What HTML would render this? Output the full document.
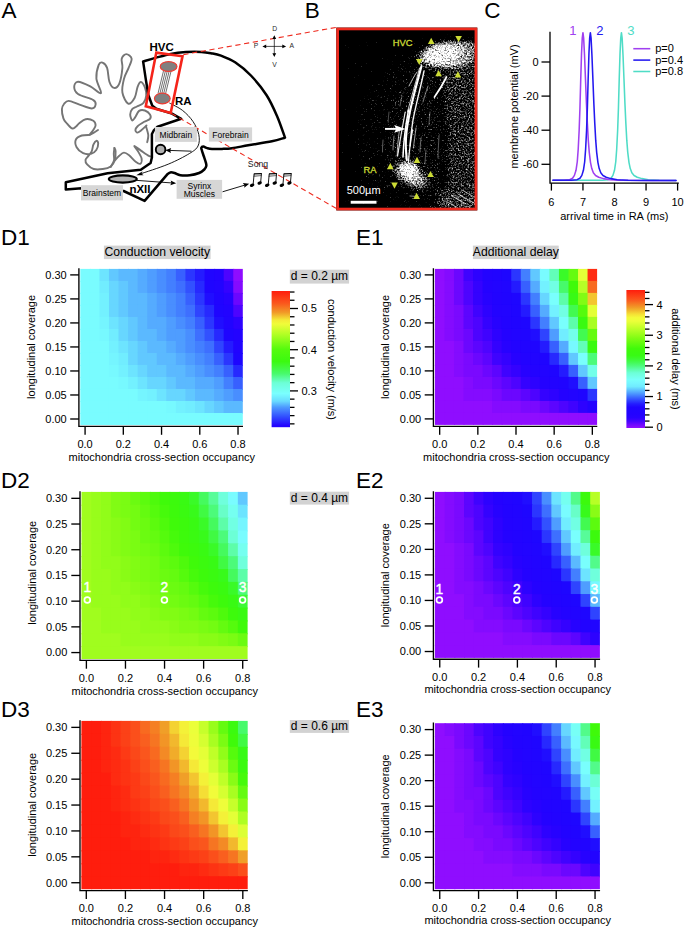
<!DOCTYPE html>
<html><head><meta charset="utf-8"><title>Figure</title>
<style>html,body{margin:0;padding:0;background:#fff;}svg{display:block;}text{font-family:"Liberation Sans",sans-serif;}</style>
</head><body>
<svg width="685" height="928" viewBox="0 0 685 928">
<rect width="685" height="928" fill="#fff"/>
<text x="1.40" y="18.00" font-size="22.5" text-anchor="start" fill="#000" >A</text>
<text x="304.70" y="18.00" font-size="22.5" text-anchor="start" fill="#000" >B</text>
<text x="484.30" y="18.00" font-size="22.5" text-anchor="start" fill="#000" >C</text>
<text x="1.00" y="244.90" font-size="22.5" text-anchor="start" fill="#000" >D1</text>
<text x="356.10" y="244.90" font-size="22.5" text-anchor="start" fill="#000" >E1</text>
<text x="1.00" y="488.00" font-size="22.5" text-anchor="start" fill="#000" >D2</text>
<text x="356.10" y="488.00" font-size="22.5" text-anchor="start" fill="#000" >E2</text>
<text x="1.00" y="716.60" font-size="22.5" text-anchor="start" fill="#000" >D3</text>
<text x="356.10" y="716.60" font-size="22.5" text-anchor="start" fill="#000" >E3</text>
<rect x="103.90" y="245.60" width="106.70" height="13.50" fill="#d2d2d2"/>
<text x="157.25" y="256.00" font-size="12.2" text-anchor="middle" fill="#000" >Conduction velocity</text>
<rect x="472.90" y="245.60" width="85.80" height="13.50" fill="#d2d2d2"/>
<text x="515.80" y="256.00" font-size="12.2" text-anchor="middle" fill="#000" >Additional delay</text>
<rect x="289.80" y="269.70" width="59.30" height="13.90" fill="#d2d2d2"/>
<text x="319.45" y="280.40" font-size="12" text-anchor="middle" fill="#000" >d = 0.2 µm</text>
<rect x="289.80" y="491.70" width="59.30" height="12.90" fill="#d2d2d2"/>
<text x="319.45" y="501.50" font-size="12" text-anchor="middle" fill="#000" >d = 0.4 µm</text>
<rect x="289.80" y="720.00" width="59.30" height="12.90" fill="#d2d2d2"/>
<text x="319.45" y="729.90" font-size="12" text-anchor="middle" fill="#000" >d = 0.6 µm</text>
<rect x="80.30" y="268.90" width="10.56" height="13.01" fill="#79fcff"/>
<rect x="89.86" y="268.90" width="10.56" height="13.01" fill="#79fcff"/>
<rect x="99.42" y="268.90" width="10.56" height="13.01" fill="#6de4ff"/>
<rect x="108.98" y="268.90" width="10.56" height="13.01" fill="#61c8ff"/>
<rect x="118.54" y="268.90" width="10.56" height="13.01" fill="#5bb9ff"/>
<rect x="128.09" y="268.90" width="10.56" height="13.01" fill="#5bb9ff"/>
<rect x="137.65" y="268.90" width="10.56" height="13.01" fill="#55abff"/>
<rect x="147.21" y="268.90" width="10.56" height="13.01" fill="#4f9dff"/>
<rect x="156.77" y="268.90" width="10.56" height="13.01" fill="#498eff"/>
<rect x="166.33" y="268.90" width="10.56" height="13.01" fill="#437fff"/>
<rect x="175.89" y="268.90" width="10.56" height="13.01" fill="#3860ff"/>
<rect x="185.45" y="268.90" width="10.56" height="13.01" fill="#2b36ff"/>
<rect x="195.01" y="268.90" width="10.56" height="13.01" fill="#241bff"/>
<rect x="204.56" y="268.90" width="10.56" height="13.01" fill="#2005ff"/>
<rect x="214.12" y="268.90" width="10.56" height="13.01" fill="#2303ff"/>
<rect x="223.68" y="268.90" width="10.56" height="13.01" fill="#4d04ff"/>
<rect x="233.24" y="268.90" width="9.56" height="13.01" fill="#8f0dff"/>
<rect x="80.30" y="280.91" width="10.56" height="13.01" fill="#79fcff"/>
<rect x="89.86" y="280.91" width="10.56" height="13.01" fill="#79fcff"/>
<rect x="99.42" y="280.91" width="10.56" height="13.01" fill="#71edff"/>
<rect x="108.98" y="280.91" width="10.56" height="13.01" fill="#67d6ff"/>
<rect x="118.54" y="280.91" width="10.56" height="13.01" fill="#61c8ff"/>
<rect x="128.09" y="280.91" width="10.56" height="13.01" fill="#5bb9ff"/>
<rect x="137.65" y="280.91" width="10.56" height="13.01" fill="#55abff"/>
<rect x="147.21" y="280.91" width="10.56" height="13.01" fill="#4f9dff"/>
<rect x="156.77" y="280.91" width="10.56" height="13.01" fill="#498eff"/>
<rect x="166.33" y="280.91" width="10.56" height="13.01" fill="#437fff"/>
<rect x="175.89" y="280.91" width="10.56" height="13.01" fill="#3e6fff"/>
<rect x="185.45" y="280.91" width="10.56" height="13.01" fill="#3251ff"/>
<rect x="195.01" y="280.91" width="10.56" height="13.01" fill="#2729ff"/>
<rect x="204.56" y="280.91" width="10.56" height="13.01" fill="#1f05ff"/>
<rect x="214.12" y="280.91" width="10.56" height="13.01" fill="#2204ff"/>
<rect x="223.68" y="280.91" width="10.56" height="13.01" fill="#3402ff"/>
<rect x="233.24" y="280.91" width="9.56" height="13.01" fill="#840bff"/>
<rect x="80.30" y="292.92" width="10.56" height="13.01" fill="#79fcff"/>
<rect x="89.86" y="292.92" width="10.56" height="13.01" fill="#79fcff"/>
<rect x="99.42" y="292.92" width="10.56" height="13.01" fill="#73f1ff"/>
<rect x="108.98" y="292.92" width="10.56" height="13.01" fill="#67d6ff"/>
<rect x="118.54" y="292.92" width="10.56" height="13.01" fill="#61c8ff"/>
<rect x="128.09" y="292.92" width="10.56" height="13.01" fill="#5bb9ff"/>
<rect x="137.65" y="292.92" width="10.56" height="13.01" fill="#5bb9ff"/>
<rect x="147.21" y="292.92" width="10.56" height="13.01" fill="#55abff"/>
<rect x="156.77" y="292.92" width="10.56" height="13.01" fill="#4f9dff"/>
<rect x="166.33" y="292.92" width="10.56" height="13.01" fill="#498eff"/>
<rect x="175.89" y="292.92" width="10.56" height="13.01" fill="#437fff"/>
<rect x="185.45" y="292.92" width="10.56" height="13.01" fill="#3860ff"/>
<rect x="195.01" y="292.92" width="10.56" height="13.01" fill="#2b36ff"/>
<rect x="204.56" y="292.92" width="10.56" height="13.01" fill="#200eff"/>
<rect x="214.12" y="292.92" width="10.56" height="13.01" fill="#2004ff"/>
<rect x="223.68" y="292.92" width="10.56" height="13.01" fill="#2702ff"/>
<rect x="233.24" y="292.92" width="9.56" height="13.01" fill="#6b07ff"/>
<rect x="80.30" y="304.92" width="10.56" height="13.01" fill="#79fcff"/>
<rect x="89.86" y="304.92" width="10.56" height="13.01" fill="#79fcff"/>
<rect x="99.42" y="304.92" width="10.56" height="13.01" fill="#73f1ff"/>
<rect x="108.98" y="304.92" width="10.56" height="13.01" fill="#67d6ff"/>
<rect x="118.54" y="304.92" width="10.56" height="13.01" fill="#61c8ff"/>
<rect x="128.09" y="304.92" width="10.56" height="13.01" fill="#5bb9ff"/>
<rect x="137.65" y="304.92" width="10.56" height="13.01" fill="#5bb9ff"/>
<rect x="147.21" y="304.92" width="10.56" height="13.01" fill="#55abff"/>
<rect x="156.77" y="304.92" width="10.56" height="13.01" fill="#4f9dff"/>
<rect x="166.33" y="304.92" width="10.56" height="13.01" fill="#498eff"/>
<rect x="175.89" y="304.92" width="10.56" height="13.01" fill="#437fff"/>
<rect x="185.45" y="304.92" width="10.56" height="13.01" fill="#3e6fff"/>
<rect x="195.01" y="304.92" width="10.56" height="13.01" fill="#2f44ff"/>
<rect x="204.56" y="304.92" width="10.56" height="13.01" fill="#2729ff"/>
<rect x="214.12" y="304.92" width="10.56" height="13.01" fill="#1f05ff"/>
<rect x="223.68" y="304.92" width="10.56" height="13.01" fill="#2203ff"/>
<rect x="233.24" y="304.92" width="9.56" height="13.01" fill="#4d04ff"/>
<rect x="80.30" y="316.93" width="10.56" height="13.01" fill="#79fcff"/>
<rect x="89.86" y="316.93" width="10.56" height="13.01" fill="#79fcff"/>
<rect x="99.42" y="316.93" width="10.56" height="13.01" fill="#75f5ff"/>
<rect x="108.98" y="316.93" width="10.56" height="13.01" fill="#6de4ff"/>
<rect x="118.54" y="316.93" width="10.56" height="13.01" fill="#67d6ff"/>
<rect x="128.09" y="316.93" width="10.56" height="13.01" fill="#61c8ff"/>
<rect x="137.65" y="316.93" width="10.56" height="13.01" fill="#5bb9ff"/>
<rect x="147.21" y="316.93" width="10.56" height="13.01" fill="#55abff"/>
<rect x="156.77" y="316.93" width="10.56" height="13.01" fill="#55abff"/>
<rect x="166.33" y="316.93" width="10.56" height="13.01" fill="#4f9dff"/>
<rect x="175.89" y="316.93" width="10.56" height="13.01" fill="#498eff"/>
<rect x="185.45" y="316.93" width="10.56" height="13.01" fill="#437fff"/>
<rect x="195.01" y="316.93" width="10.56" height="13.01" fill="#3860ff"/>
<rect x="204.56" y="316.93" width="10.56" height="13.01" fill="#2b36ff"/>
<rect x="214.12" y="316.93" width="10.56" height="13.01" fill="#200eff"/>
<rect x="223.68" y="316.93" width="10.56" height="13.01" fill="#2104ff"/>
<rect x="233.24" y="316.93" width="9.56" height="13.01" fill="#2d02ff"/>
<rect x="80.30" y="328.94" width="10.56" height="13.01" fill="#79fcff"/>
<rect x="89.86" y="328.94" width="10.56" height="13.01" fill="#79fcff"/>
<rect x="99.42" y="328.94" width="10.56" height="13.01" fill="#77f9ff"/>
<rect x="108.98" y="328.94" width="10.56" height="13.01" fill="#71edff"/>
<rect x="118.54" y="328.94" width="10.56" height="13.01" fill="#67d6ff"/>
<rect x="128.09" y="328.94" width="10.56" height="13.01" fill="#61c8ff"/>
<rect x="137.65" y="328.94" width="10.56" height="13.01" fill="#5bb9ff"/>
<rect x="147.21" y="328.94" width="10.56" height="13.01" fill="#5bb9ff"/>
<rect x="156.77" y="328.94" width="10.56" height="13.01" fill="#55abff"/>
<rect x="166.33" y="328.94" width="10.56" height="13.01" fill="#4f9dff"/>
<rect x="175.89" y="328.94" width="10.56" height="13.01" fill="#4f9dff"/>
<rect x="185.45" y="328.94" width="10.56" height="13.01" fill="#498eff"/>
<rect x="195.01" y="328.94" width="10.56" height="13.01" fill="#3e6fff"/>
<rect x="204.56" y="328.94" width="10.56" height="13.01" fill="#3251ff"/>
<rect x="214.12" y="328.94" width="10.56" height="13.01" fill="#2729ff"/>
<rect x="223.68" y="328.94" width="10.56" height="13.01" fill="#1f05ff"/>
<rect x="233.24" y="328.94" width="9.56" height="13.01" fill="#2303ff"/>
<rect x="80.30" y="340.95" width="10.56" height="13.01" fill="#79fcff"/>
<rect x="89.86" y="340.95" width="10.56" height="13.01" fill="#79fcff"/>
<rect x="99.42" y="340.95" width="10.56" height="13.01" fill="#79fcff"/>
<rect x="108.98" y="340.95" width="10.56" height="13.01" fill="#73f1ff"/>
<rect x="118.54" y="340.95" width="10.56" height="13.01" fill="#6de4ff"/>
<rect x="128.09" y="340.95" width="10.56" height="13.01" fill="#67d6ff"/>
<rect x="137.65" y="340.95" width="10.56" height="13.01" fill="#61c8ff"/>
<rect x="147.21" y="340.95" width="10.56" height="13.01" fill="#5bb9ff"/>
<rect x="156.77" y="340.95" width="10.56" height="13.01" fill="#5bb9ff"/>
<rect x="166.33" y="340.95" width="10.56" height="13.01" fill="#55abff"/>
<rect x="175.89" y="340.95" width="10.56" height="13.01" fill="#4f9dff"/>
<rect x="185.45" y="340.95" width="10.56" height="13.01" fill="#498eff"/>
<rect x="195.01" y="340.95" width="10.56" height="13.01" fill="#437fff"/>
<rect x="204.56" y="340.95" width="10.56" height="13.01" fill="#3e6fff"/>
<rect x="214.12" y="340.95" width="10.56" height="13.01" fill="#2f44ff"/>
<rect x="223.68" y="340.95" width="10.56" height="13.01" fill="#241bff"/>
<rect x="233.24" y="340.95" width="9.56" height="13.01" fill="#2104ff"/>
<rect x="80.30" y="352.95" width="10.56" height="13.01" fill="#79fcff"/>
<rect x="89.86" y="352.95" width="10.56" height="13.01" fill="#79fcff"/>
<rect x="99.42" y="352.95" width="10.56" height="13.01" fill="#79fcff"/>
<rect x="108.98" y="352.95" width="10.56" height="13.01" fill="#75f5ff"/>
<rect x="118.54" y="352.95" width="10.56" height="13.01" fill="#71edff"/>
<rect x="128.09" y="352.95" width="10.56" height="13.01" fill="#67d6ff"/>
<rect x="137.65" y="352.95" width="10.56" height="13.01" fill="#61c8ff"/>
<rect x="147.21" y="352.95" width="10.56" height="13.01" fill="#61c8ff"/>
<rect x="156.77" y="352.95" width="10.56" height="13.01" fill="#5bb9ff"/>
<rect x="166.33" y="352.95" width="10.56" height="13.01" fill="#5bb9ff"/>
<rect x="175.89" y="352.95" width="10.56" height="13.01" fill="#55abff"/>
<rect x="185.45" y="352.95" width="10.56" height="13.01" fill="#4f9dff"/>
<rect x="195.01" y="352.95" width="10.56" height="13.01" fill="#498eff"/>
<rect x="204.56" y="352.95" width="10.56" height="13.01" fill="#437fff"/>
<rect x="214.12" y="352.95" width="10.56" height="13.01" fill="#3860ff"/>
<rect x="223.68" y="352.95" width="10.56" height="13.01" fill="#2b36ff"/>
<rect x="233.24" y="352.95" width="9.56" height="13.01" fill="#1e06ff"/>
<rect x="80.30" y="364.96" width="10.56" height="13.01" fill="#79fcff"/>
<rect x="89.86" y="364.96" width="10.56" height="13.01" fill="#79fcff"/>
<rect x="99.42" y="364.96" width="10.56" height="13.01" fill="#79fcff"/>
<rect x="108.98" y="364.96" width="10.56" height="13.01" fill="#77f9ff"/>
<rect x="118.54" y="364.96" width="10.56" height="13.01" fill="#73f1ff"/>
<rect x="128.09" y="364.96" width="10.56" height="13.01" fill="#6de4ff"/>
<rect x="137.65" y="364.96" width="10.56" height="13.01" fill="#67d6ff"/>
<rect x="147.21" y="364.96" width="10.56" height="13.01" fill="#61c8ff"/>
<rect x="156.77" y="364.96" width="10.56" height="13.01" fill="#61c8ff"/>
<rect x="166.33" y="364.96" width="10.56" height="13.01" fill="#5bb9ff"/>
<rect x="175.89" y="364.96" width="10.56" height="13.01" fill="#5bb9ff"/>
<rect x="185.45" y="364.96" width="10.56" height="13.01" fill="#55abff"/>
<rect x="195.01" y="364.96" width="10.56" height="13.01" fill="#4f9dff"/>
<rect x="204.56" y="364.96" width="10.56" height="13.01" fill="#498eff"/>
<rect x="214.12" y="364.96" width="10.56" height="13.01" fill="#437fff"/>
<rect x="223.68" y="364.96" width="10.56" height="13.01" fill="#3860ff"/>
<rect x="233.24" y="364.96" width="9.56" height="13.01" fill="#2729ff"/>
<rect x="80.30" y="376.97" width="10.56" height="13.01" fill="#79fcff"/>
<rect x="89.86" y="376.97" width="10.56" height="13.01" fill="#79fcff"/>
<rect x="99.42" y="376.97" width="10.56" height="13.01" fill="#79fcff"/>
<rect x="108.98" y="376.97" width="10.56" height="13.01" fill="#79fcff"/>
<rect x="118.54" y="376.97" width="10.56" height="13.01" fill="#77f9ff"/>
<rect x="128.09" y="376.97" width="10.56" height="13.01" fill="#73f1ff"/>
<rect x="137.65" y="376.97" width="10.56" height="13.01" fill="#6de4ff"/>
<rect x="147.21" y="376.97" width="10.56" height="13.01" fill="#67d6ff"/>
<rect x="156.77" y="376.97" width="10.56" height="13.01" fill="#67d6ff"/>
<rect x="166.33" y="376.97" width="10.56" height="13.01" fill="#61c8ff"/>
<rect x="175.89" y="376.97" width="10.56" height="13.01" fill="#5bb9ff"/>
<rect x="185.45" y="376.97" width="10.56" height="13.01" fill="#5bb9ff"/>
<rect x="195.01" y="376.97" width="10.56" height="13.01" fill="#55abff"/>
<rect x="204.56" y="376.97" width="10.56" height="13.01" fill="#55abff"/>
<rect x="214.12" y="376.97" width="10.56" height="13.01" fill="#4f9dff"/>
<rect x="223.68" y="376.97" width="10.56" height="13.01" fill="#437fff"/>
<rect x="233.24" y="376.97" width="9.56" height="13.01" fill="#3860ff"/>
<rect x="80.30" y="388.98" width="10.56" height="13.01" fill="#79fcff"/>
<rect x="89.86" y="388.98" width="10.56" height="13.01" fill="#79fcff"/>
<rect x="99.42" y="388.98" width="10.56" height="13.01" fill="#79fcff"/>
<rect x="108.98" y="388.98" width="10.56" height="13.01" fill="#79fcff"/>
<rect x="118.54" y="388.98" width="10.56" height="13.01" fill="#79fcff"/>
<rect x="128.09" y="388.98" width="10.56" height="13.01" fill="#79fcff"/>
<rect x="137.65" y="388.98" width="10.56" height="13.01" fill="#75f5ff"/>
<rect x="147.21" y="388.98" width="10.56" height="13.01" fill="#73f1ff"/>
<rect x="156.77" y="388.98" width="10.56" height="13.01" fill="#6de4ff"/>
<rect x="166.33" y="388.98" width="10.56" height="13.01" fill="#67d6ff"/>
<rect x="175.89" y="388.98" width="10.56" height="13.01" fill="#67d6ff"/>
<rect x="185.45" y="388.98" width="10.56" height="13.01" fill="#61c8ff"/>
<rect x="195.01" y="388.98" width="10.56" height="13.01" fill="#5bb9ff"/>
<rect x="204.56" y="388.98" width="10.56" height="13.01" fill="#5bb9ff"/>
<rect x="214.12" y="388.98" width="10.56" height="13.01" fill="#55abff"/>
<rect x="223.68" y="388.98" width="10.56" height="13.01" fill="#4f9dff"/>
<rect x="233.24" y="388.98" width="9.56" height="13.01" fill="#498eff"/>
<rect x="80.30" y="400.98" width="10.56" height="13.01" fill="#79fcff"/>
<rect x="89.86" y="400.98" width="10.56" height="13.01" fill="#79fcff"/>
<rect x="99.42" y="400.98" width="10.56" height="13.01" fill="#79fcff"/>
<rect x="108.98" y="400.98" width="10.56" height="13.01" fill="#79fcff"/>
<rect x="118.54" y="400.98" width="10.56" height="13.01" fill="#79fcff"/>
<rect x="128.09" y="400.98" width="10.56" height="13.01" fill="#79fcff"/>
<rect x="137.65" y="400.98" width="10.56" height="13.01" fill="#79fcff"/>
<rect x="147.21" y="400.98" width="10.56" height="13.01" fill="#79fcff"/>
<rect x="156.77" y="400.98" width="10.56" height="13.01" fill="#79fcff"/>
<rect x="166.33" y="400.98" width="10.56" height="13.01" fill="#77f9ff"/>
<rect x="175.89" y="400.98" width="10.56" height="13.01" fill="#73f1ff"/>
<rect x="185.45" y="400.98" width="10.56" height="13.01" fill="#71edff"/>
<rect x="195.01" y="400.98" width="10.56" height="13.01" fill="#6de4ff"/>
<rect x="204.56" y="400.98" width="10.56" height="13.01" fill="#67d6ff"/>
<rect x="214.12" y="400.98" width="10.56" height="13.01" fill="#61c8ff"/>
<rect x="223.68" y="400.98" width="10.56" height="13.01" fill="#5bb9ff"/>
<rect x="233.24" y="400.98" width="9.56" height="13.01" fill="#5bb9ff"/>
<rect x="80.30" y="412.99" width="10.56" height="12.01" fill="#79fcff"/>
<rect x="89.86" y="412.99" width="10.56" height="12.01" fill="#79fcff"/>
<rect x="99.42" y="412.99" width="10.56" height="12.01" fill="#79fcff"/>
<rect x="108.98" y="412.99" width="10.56" height="12.01" fill="#79fcff"/>
<rect x="118.54" y="412.99" width="10.56" height="12.01" fill="#79fcff"/>
<rect x="128.09" y="412.99" width="10.56" height="12.01" fill="#79fcff"/>
<rect x="137.65" y="412.99" width="10.56" height="12.01" fill="#79fcff"/>
<rect x="147.21" y="412.99" width="10.56" height="12.01" fill="#79fcff"/>
<rect x="156.77" y="412.99" width="10.56" height="12.01" fill="#79fcff"/>
<rect x="166.33" y="412.99" width="10.56" height="12.01" fill="#79fcff"/>
<rect x="175.89" y="412.99" width="10.56" height="12.01" fill="#79fcff"/>
<rect x="185.45" y="412.99" width="10.56" height="12.01" fill="#79fcff"/>
<rect x="195.01" y="412.99" width="10.56" height="12.01" fill="#79fcff"/>
<rect x="204.56" y="412.99" width="10.56" height="12.01" fill="#79fcff"/>
<rect x="214.12" y="412.99" width="10.56" height="12.01" fill="#79fcff"/>
<rect x="223.68" y="412.99" width="10.56" height="12.01" fill="#79fcff"/>
<rect x="233.24" y="412.99" width="9.56" height="12.01" fill="#79fcff"/>
<path d="M78.90,268.90 V426.40 H242.30" fill="none" stroke="#000" stroke-width="1.35" stroke-linecap="square"/>
<line x1="85.08" y1="426.40" x2="85.08" y2="434.80" stroke="#000" stroke-width="1.35"/>
<text x="85.08" y="448.00" font-size="11" text-anchor="middle" fill="#000" >0.0</text>
<line x1="123.31" y1="426.40" x2="123.31" y2="434.80" stroke="#000" stroke-width="1.35"/>
<text x="123.31" y="448.00" font-size="11" text-anchor="middle" fill="#000" >0.2</text>
<line x1="161.55" y1="426.40" x2="161.55" y2="434.80" stroke="#000" stroke-width="1.35"/>
<text x="161.55" y="448.00" font-size="11" text-anchor="middle" fill="#000" >0.4</text>
<line x1="199.79" y1="426.40" x2="199.79" y2="434.80" stroke="#000" stroke-width="1.35"/>
<text x="199.79" y="448.00" font-size="11" text-anchor="middle" fill="#000" >0.6</text>
<line x1="238.02" y1="426.40" x2="238.02" y2="434.80" stroke="#000" stroke-width="1.35"/>
<text x="238.02" y="448.00" font-size="11" text-anchor="middle" fill="#000" >0.8</text>
<line x1="70.20" y1="419.00" x2="78.90" y2="419.00" stroke="#000" stroke-width="1.35"/>
<text x="66.70" y="422.90" font-size="11" text-anchor="end" fill="#000" >0.00</text>
<line x1="70.20" y1="394.98" x2="78.90" y2="394.98" stroke="#000" stroke-width="1.35"/>
<text x="66.70" y="398.88" font-size="11" text-anchor="end" fill="#000" >0.05</text>
<line x1="70.20" y1="370.97" x2="78.90" y2="370.97" stroke="#000" stroke-width="1.35"/>
<text x="66.70" y="374.87" font-size="11" text-anchor="end" fill="#000" >0.10</text>
<line x1="70.20" y1="346.95" x2="78.90" y2="346.95" stroke="#000" stroke-width="1.35"/>
<text x="66.70" y="350.85" font-size="11" text-anchor="end" fill="#000" >0.15</text>
<line x1="70.20" y1="322.93" x2="78.90" y2="322.93" stroke="#000" stroke-width="1.35"/>
<text x="66.70" y="326.83" font-size="11" text-anchor="end" fill="#000" >0.20</text>
<line x1="70.20" y1="298.92" x2="78.90" y2="298.92" stroke="#000" stroke-width="1.35"/>
<text x="66.70" y="302.82" font-size="11" text-anchor="end" fill="#000" >0.25</text>
<line x1="70.20" y1="274.90" x2="78.90" y2="274.90" stroke="#000" stroke-width="1.35"/>
<text x="66.70" y="278.80" font-size="11" text-anchor="end" fill="#000" >0.30</text>
<text x="161.85" y="460.70" font-size="11" text-anchor="middle" fill="#000" >mitochondria cross-section occupancy</text>
<text transform="translate(34.60,346.90) rotate(-90)" font-size="11" text-anchor="middle" fill="#000">longitudinal coverage</text>
<rect x="81.50" y="491.90" width="10.77" height="13.85" fill="#a0fd1e"/>
<rect x="91.27" y="491.90" width="10.77" height="13.85" fill="#98fd1b"/>
<rect x="101.04" y="491.90" width="10.77" height="13.85" fill="#91fd19"/>
<rect x="110.81" y="491.90" width="10.77" height="13.85" fill="#81fc14"/>
<rect x="120.58" y="491.90" width="10.77" height="13.85" fill="#7afc13"/>
<rect x="130.35" y="491.90" width="10.77" height="13.85" fill="#6bfb11"/>
<rect x="140.12" y="491.90" width="10.77" height="13.85" fill="#5cfb0e"/>
<rect x="149.89" y="491.90" width="10.77" height="13.85" fill="#4efa0c"/>
<rect x="159.66" y="491.90" width="10.77" height="13.85" fill="#3ffa0a"/>
<rect x="169.44" y="491.90" width="10.77" height="13.85" fill="#3cfa0d"/>
<rect x="179.21" y="491.90" width="10.77" height="13.85" fill="#39fa13"/>
<rect x="188.98" y="491.90" width="10.77" height="13.85" fill="#3afa28"/>
<rect x="198.75" y="491.90" width="10.77" height="13.85" fill="#45fa5e"/>
<rect x="208.52" y="491.90" width="10.77" height="13.85" fill="#57fc99"/>
<rect x="218.29" y="491.90" width="10.77" height="13.85" fill="#6fffdc"/>
<rect x="228.06" y="491.90" width="10.77" height="13.85" fill="#79fcff"/>
<rect x="237.83" y="491.90" width="9.77" height="13.85" fill="#61c8ff"/>
<rect x="81.50" y="504.75" width="10.77" height="13.85" fill="#a0fd1e"/>
<rect x="91.27" y="504.75" width="10.77" height="13.85" fill="#98fd1b"/>
<rect x="101.04" y="504.75" width="10.77" height="13.85" fill="#91fd19"/>
<rect x="110.81" y="504.75" width="10.77" height="13.85" fill="#81fc14"/>
<rect x="120.58" y="504.75" width="10.77" height="13.85" fill="#7afc13"/>
<rect x="130.35" y="504.75" width="10.77" height="13.85" fill="#73fc12"/>
<rect x="140.12" y="504.75" width="10.77" height="13.85" fill="#64fb10"/>
<rect x="149.89" y="504.75" width="10.77" height="13.85" fill="#55fb0d"/>
<rect x="159.66" y="504.75" width="10.77" height="13.85" fill="#46fa0b"/>
<rect x="169.44" y="504.75" width="10.77" height="13.85" fill="#3dfa0c"/>
<rect x="179.21" y="504.75" width="10.77" height="13.85" fill="#3afa11"/>
<rect x="188.98" y="504.75" width="10.77" height="13.85" fill="#38fa1b"/>
<rect x="198.75" y="504.75" width="10.77" height="13.85" fill="#40fa43"/>
<rect x="208.52" y="504.75" width="10.77" height="13.85" fill="#4cfb7a"/>
<rect x="218.29" y="504.75" width="10.77" height="13.85" fill="#68fec8"/>
<rect x="228.06" y="504.75" width="10.77" height="13.85" fill="#75fff0"/>
<rect x="237.83" y="504.75" width="9.77" height="13.85" fill="#6de4ff"/>
<rect x="81.50" y="517.61" width="10.77" height="13.85" fill="#a0fd1e"/>
<rect x="91.27" y="517.61" width="10.77" height="13.85" fill="#98fd1b"/>
<rect x="101.04" y="517.61" width="10.77" height="13.85" fill="#91fd19"/>
<rect x="110.81" y="517.61" width="10.77" height="13.85" fill="#89fc16"/>
<rect x="120.58" y="517.61" width="10.77" height="13.85" fill="#81fc14"/>
<rect x="130.35" y="517.61" width="10.77" height="13.85" fill="#73fc12"/>
<rect x="140.12" y="517.61" width="10.77" height="13.85" fill="#6bfb11"/>
<rect x="149.89" y="517.61" width="10.77" height="13.85" fill="#5cfb0e"/>
<rect x="159.66" y="517.61" width="10.77" height="13.85" fill="#4efa0c"/>
<rect x="169.44" y="517.61" width="10.77" height="13.85" fill="#3ffa0a"/>
<rect x="179.21" y="517.61" width="10.77" height="13.85" fill="#3cfa0d"/>
<rect x="188.98" y="517.61" width="10.77" height="13.85" fill="#39fa13"/>
<rect x="198.75" y="517.61" width="10.77" height="13.85" fill="#3afa28"/>
<rect x="208.52" y="517.61" width="10.77" height="13.85" fill="#45fa5e"/>
<rect x="218.29" y="517.61" width="10.77" height="13.85" fill="#5dfda9"/>
<rect x="228.06" y="517.61" width="10.77" height="13.85" fill="#71ffe3"/>
<rect x="237.83" y="517.61" width="9.77" height="13.85" fill="#75f5ff"/>
<rect x="81.50" y="530.46" width="10.77" height="13.85" fill="#a0fd1e"/>
<rect x="91.27" y="530.46" width="10.77" height="13.85" fill="#98fd1b"/>
<rect x="101.04" y="530.46" width="10.77" height="13.85" fill="#91fd19"/>
<rect x="110.81" y="530.46" width="10.77" height="13.85" fill="#89fc16"/>
<rect x="120.58" y="530.46" width="10.77" height="13.85" fill="#81fc14"/>
<rect x="130.35" y="530.46" width="10.77" height="13.85" fill="#7afc13"/>
<rect x="140.12" y="530.46" width="10.77" height="13.85" fill="#6bfb11"/>
<rect x="149.89" y="530.46" width="10.77" height="13.85" fill="#64fb10"/>
<rect x="159.66" y="530.46" width="10.77" height="13.85" fill="#55fb0d"/>
<rect x="169.44" y="530.46" width="10.77" height="13.85" fill="#46fa0b"/>
<rect x="179.21" y="530.46" width="10.77" height="13.85" fill="#3dfa0c"/>
<rect x="188.98" y="530.46" width="10.77" height="13.85" fill="#3afa11"/>
<rect x="198.75" y="530.46" width="10.77" height="13.85" fill="#38fa1b"/>
<rect x="208.52" y="530.46" width="10.77" height="13.85" fill="#40fa43"/>
<rect x="218.29" y="530.46" width="10.77" height="13.85" fill="#4cfb7a"/>
<rect x="228.06" y="530.46" width="10.77" height="13.85" fill="#6cffd6"/>
<rect x="237.83" y="530.46" width="9.77" height="13.85" fill="#79fcff"/>
<rect x="81.50" y="543.32" width="10.77" height="13.85" fill="#a0fd1e"/>
<rect x="91.27" y="543.32" width="10.77" height="13.85" fill="#98fd1b"/>
<rect x="101.04" y="543.32" width="10.77" height="13.85" fill="#91fd19"/>
<rect x="110.81" y="543.32" width="10.77" height="13.85" fill="#89fc16"/>
<rect x="120.58" y="543.32" width="10.77" height="13.85" fill="#81fc14"/>
<rect x="130.35" y="543.32" width="10.77" height="13.85" fill="#7afc13"/>
<rect x="140.12" y="543.32" width="10.77" height="13.85" fill="#73fc12"/>
<rect x="149.89" y="543.32" width="10.77" height="13.85" fill="#6bfb11"/>
<rect x="159.66" y="543.32" width="10.77" height="13.85" fill="#5cfb0e"/>
<rect x="169.44" y="543.32" width="10.77" height="13.85" fill="#4efa0c"/>
<rect x="179.21" y="543.32" width="10.77" height="13.85" fill="#3ffa0a"/>
<rect x="188.98" y="543.32" width="10.77" height="13.85" fill="#3cfa0d"/>
<rect x="198.75" y="543.32" width="10.77" height="13.85" fill="#39fa13"/>
<rect x="208.52" y="543.32" width="10.77" height="13.85" fill="#3afa28"/>
<rect x="218.29" y="543.32" width="10.77" height="13.85" fill="#45fa5e"/>
<rect x="228.06" y="543.32" width="10.77" height="13.85" fill="#5dfda9"/>
<rect x="237.83" y="543.32" width="9.77" height="13.85" fill="#75fff0"/>
<rect x="81.50" y="556.17" width="10.77" height="13.85" fill="#a0fd1e"/>
<rect x="91.27" y="556.17" width="10.77" height="13.85" fill="#98fd1b"/>
<rect x="101.04" y="556.17" width="10.77" height="13.85" fill="#91fd19"/>
<rect x="110.81" y="556.17" width="10.77" height="13.85" fill="#91fd19"/>
<rect x="120.58" y="556.17" width="10.77" height="13.85" fill="#89fc16"/>
<rect x="130.35" y="556.17" width="10.77" height="13.85" fill="#81fc14"/>
<rect x="140.12" y="556.17" width="10.77" height="13.85" fill="#7afc13"/>
<rect x="149.89" y="556.17" width="10.77" height="13.85" fill="#73fc12"/>
<rect x="159.66" y="556.17" width="10.77" height="13.85" fill="#64fb10"/>
<rect x="169.44" y="556.17" width="10.77" height="13.85" fill="#5cfb0e"/>
<rect x="179.21" y="556.17" width="10.77" height="13.85" fill="#4efa0c"/>
<rect x="188.98" y="556.17" width="10.77" height="13.85" fill="#3ffa0a"/>
<rect x="198.75" y="556.17" width="10.77" height="13.85" fill="#3bfa0f"/>
<rect x="208.52" y="556.17" width="10.77" height="13.85" fill="#38fa15"/>
<rect x="218.29" y="556.17" width="10.77" height="13.85" fill="#40fa43"/>
<rect x="228.06" y="556.17" width="10.77" height="13.85" fill="#4cfb7a"/>
<rect x="237.83" y="556.17" width="9.77" height="13.85" fill="#6fffdc"/>
<rect x="81.50" y="569.02" width="10.77" height="13.85" fill="#a0fd1e"/>
<rect x="91.27" y="569.02" width="10.77" height="13.85" fill="#98fd1b"/>
<rect x="101.04" y="569.02" width="10.77" height="13.85" fill="#98fd1b"/>
<rect x="110.81" y="569.02" width="10.77" height="13.85" fill="#91fd19"/>
<rect x="120.58" y="569.02" width="10.77" height="13.85" fill="#89fc16"/>
<rect x="130.35" y="569.02" width="10.77" height="13.85" fill="#81fc14"/>
<rect x="140.12" y="569.02" width="10.77" height="13.85" fill="#7afc13"/>
<rect x="149.89" y="569.02" width="10.77" height="13.85" fill="#73fc12"/>
<rect x="159.66" y="569.02" width="10.77" height="13.85" fill="#6bfb11"/>
<rect x="169.44" y="569.02" width="10.77" height="13.85" fill="#64fb10"/>
<rect x="179.21" y="569.02" width="10.77" height="13.85" fill="#55fb0d"/>
<rect x="188.98" y="569.02" width="10.77" height="13.85" fill="#46fa0b"/>
<rect x="198.75" y="569.02" width="10.77" height="13.85" fill="#3dfa0c"/>
<rect x="208.52" y="569.02" width="10.77" height="13.85" fill="#3afa11"/>
<rect x="218.29" y="569.02" width="10.77" height="13.85" fill="#38fa1b"/>
<rect x="228.06" y="569.02" width="10.77" height="13.85" fill="#45fa5e"/>
<rect x="237.83" y="569.02" width="9.77" height="13.85" fill="#5dfda9"/>
<rect x="81.50" y="581.88" width="10.77" height="13.85" fill="#a0fd1e"/>
<rect x="91.27" y="581.88" width="10.77" height="13.85" fill="#98fd1b"/>
<rect x="101.04" y="581.88" width="10.77" height="13.85" fill="#98fd1b"/>
<rect x="110.81" y="581.88" width="10.77" height="13.85" fill="#91fd19"/>
<rect x="120.58" y="581.88" width="10.77" height="13.85" fill="#91fd19"/>
<rect x="130.35" y="581.88" width="10.77" height="13.85" fill="#89fc16"/>
<rect x="140.12" y="581.88" width="10.77" height="13.85" fill="#81fc14"/>
<rect x="149.89" y="581.88" width="10.77" height="13.85" fill="#7afc13"/>
<rect x="159.66" y="581.88" width="10.77" height="13.85" fill="#73fc12"/>
<rect x="169.44" y="581.88" width="10.77" height="13.85" fill="#6bfb11"/>
<rect x="179.21" y="581.88" width="10.77" height="13.85" fill="#64fb10"/>
<rect x="188.98" y="581.88" width="10.77" height="13.85" fill="#55fb0d"/>
<rect x="198.75" y="581.88" width="10.77" height="13.85" fill="#46fa0b"/>
<rect x="208.52" y="581.88" width="10.77" height="13.85" fill="#3dfa0c"/>
<rect x="218.29" y="581.88" width="10.77" height="13.85" fill="#3afa11"/>
<rect x="228.06" y="581.88" width="10.77" height="13.85" fill="#3afa28"/>
<rect x="237.83" y="581.88" width="9.77" height="13.85" fill="#4cfb7a"/>
<rect x="81.50" y="594.73" width="10.77" height="13.85" fill="#a0fd1e"/>
<rect x="91.27" y="594.73" width="10.77" height="13.85" fill="#98fd1b"/>
<rect x="101.04" y="594.73" width="10.77" height="13.85" fill="#98fd1b"/>
<rect x="110.81" y="594.73" width="10.77" height="13.85" fill="#98fd1b"/>
<rect x="120.58" y="594.73" width="10.77" height="13.85" fill="#91fd19"/>
<rect x="130.35" y="594.73" width="10.77" height="13.85" fill="#91fd19"/>
<rect x="140.12" y="594.73" width="10.77" height="13.85" fill="#89fc16"/>
<rect x="149.89" y="594.73" width="10.77" height="13.85" fill="#81fc14"/>
<rect x="159.66" y="594.73" width="10.77" height="13.85" fill="#7afc13"/>
<rect x="169.44" y="594.73" width="10.77" height="13.85" fill="#73fc12"/>
<rect x="179.21" y="594.73" width="10.77" height="13.85" fill="#6bfb11"/>
<rect x="188.98" y="594.73" width="10.77" height="13.85" fill="#64fb10"/>
<rect x="198.75" y="594.73" width="10.77" height="13.85" fill="#55fb0d"/>
<rect x="208.52" y="594.73" width="10.77" height="13.85" fill="#46fa0b"/>
<rect x="218.29" y="594.73" width="10.77" height="13.85" fill="#3dfa0c"/>
<rect x="228.06" y="594.73" width="10.77" height="13.85" fill="#39fa13"/>
<rect x="237.83" y="594.73" width="9.77" height="13.85" fill="#3dfa35"/>
<rect x="81.50" y="607.58" width="10.77" height="13.85" fill="#a0fd1e"/>
<rect x="91.27" y="607.58" width="10.77" height="13.85" fill="#a0fd1e"/>
<rect x="101.04" y="607.58" width="10.77" height="13.85" fill="#98fd1b"/>
<rect x="110.81" y="607.58" width="10.77" height="13.85" fill="#98fd1b"/>
<rect x="120.58" y="607.58" width="10.77" height="13.85" fill="#98fd1b"/>
<rect x="130.35" y="607.58" width="10.77" height="13.85" fill="#91fd19"/>
<rect x="140.12" y="607.58" width="10.77" height="13.85" fill="#91fd19"/>
<rect x="149.89" y="607.58" width="10.77" height="13.85" fill="#89fc16"/>
<rect x="159.66" y="607.58" width="10.77" height="13.85" fill="#81fc14"/>
<rect x="169.44" y="607.58" width="10.77" height="13.85" fill="#81fc14"/>
<rect x="179.21" y="607.58" width="10.77" height="13.85" fill="#7afc13"/>
<rect x="188.98" y="607.58" width="10.77" height="13.85" fill="#73fc12"/>
<rect x="198.75" y="607.58" width="10.77" height="13.85" fill="#64fb10"/>
<rect x="208.52" y="607.58" width="10.77" height="13.85" fill="#5cfb0e"/>
<rect x="218.29" y="607.58" width="10.77" height="13.85" fill="#4efa0c"/>
<rect x="228.06" y="607.58" width="10.77" height="13.85" fill="#3dfa0c"/>
<rect x="237.83" y="607.58" width="9.77" height="13.85" fill="#39fa13"/>
<rect x="81.50" y="620.44" width="10.77" height="13.85" fill="#a0fd1e"/>
<rect x="91.27" y="620.44" width="10.77" height="13.85" fill="#a0fd1e"/>
<rect x="101.04" y="620.44" width="10.77" height="13.85" fill="#98fd1b"/>
<rect x="110.81" y="620.44" width="10.77" height="13.85" fill="#98fd1b"/>
<rect x="120.58" y="620.44" width="10.77" height="13.85" fill="#98fd1b"/>
<rect x="130.35" y="620.44" width="10.77" height="13.85" fill="#98fd1b"/>
<rect x="140.12" y="620.44" width="10.77" height="13.85" fill="#91fd19"/>
<rect x="149.89" y="620.44" width="10.77" height="13.85" fill="#91fd19"/>
<rect x="159.66" y="620.44" width="10.77" height="13.85" fill="#91fd19"/>
<rect x="169.44" y="620.44" width="10.77" height="13.85" fill="#89fc16"/>
<rect x="179.21" y="620.44" width="10.77" height="13.85" fill="#81fc14"/>
<rect x="188.98" y="620.44" width="10.77" height="13.85" fill="#81fc14"/>
<rect x="198.75" y="620.44" width="10.77" height="13.85" fill="#7afc13"/>
<rect x="208.52" y="620.44" width="10.77" height="13.85" fill="#73fc12"/>
<rect x="218.29" y="620.44" width="10.77" height="13.85" fill="#64fb10"/>
<rect x="228.06" y="620.44" width="10.77" height="13.85" fill="#55fb0d"/>
<rect x="237.83" y="620.44" width="9.77" height="13.85" fill="#3ffa0a"/>
<rect x="81.50" y="633.29" width="10.77" height="13.85" fill="#a0fd1e"/>
<rect x="91.27" y="633.29" width="10.77" height="13.85" fill="#a0fd1e"/>
<rect x="101.04" y="633.29" width="10.77" height="13.85" fill="#a0fd1e"/>
<rect x="110.81" y="633.29" width="10.77" height="13.85" fill="#a0fd1e"/>
<rect x="120.58" y="633.29" width="10.77" height="13.85" fill="#98fd1b"/>
<rect x="130.35" y="633.29" width="10.77" height="13.85" fill="#98fd1b"/>
<rect x="140.12" y="633.29" width="10.77" height="13.85" fill="#98fd1b"/>
<rect x="149.89" y="633.29" width="10.77" height="13.85" fill="#98fd1b"/>
<rect x="159.66" y="633.29" width="10.77" height="13.85" fill="#98fd1b"/>
<rect x="169.44" y="633.29" width="10.77" height="13.85" fill="#91fd19"/>
<rect x="179.21" y="633.29" width="10.77" height="13.85" fill="#91fd19"/>
<rect x="188.98" y="633.29" width="10.77" height="13.85" fill="#91fd19"/>
<rect x="198.75" y="633.29" width="10.77" height="13.85" fill="#89fc16"/>
<rect x="208.52" y="633.29" width="10.77" height="13.85" fill="#89fc16"/>
<rect x="218.29" y="633.29" width="10.77" height="13.85" fill="#81fc14"/>
<rect x="228.06" y="633.29" width="10.77" height="13.85" fill="#7afc13"/>
<rect x="237.83" y="633.29" width="9.77" height="13.85" fill="#6bfb11"/>
<rect x="81.50" y="646.15" width="10.77" height="12.85" fill="#a0fd1e"/>
<rect x="91.27" y="646.15" width="10.77" height="12.85" fill="#a0fd1e"/>
<rect x="101.04" y="646.15" width="10.77" height="12.85" fill="#a0fd1e"/>
<rect x="110.81" y="646.15" width="10.77" height="12.85" fill="#a0fd1e"/>
<rect x="120.58" y="646.15" width="10.77" height="12.85" fill="#a0fd1e"/>
<rect x="130.35" y="646.15" width="10.77" height="12.85" fill="#a0fd1e"/>
<rect x="140.12" y="646.15" width="10.77" height="12.85" fill="#a0fd1e"/>
<rect x="149.89" y="646.15" width="10.77" height="12.85" fill="#a0fd1e"/>
<rect x="159.66" y="646.15" width="10.77" height="12.85" fill="#a0fd1e"/>
<rect x="169.44" y="646.15" width="10.77" height="12.85" fill="#a0fd1e"/>
<rect x="179.21" y="646.15" width="10.77" height="12.85" fill="#a0fd1e"/>
<rect x="188.98" y="646.15" width="10.77" height="12.85" fill="#a0fd1e"/>
<rect x="198.75" y="646.15" width="10.77" height="12.85" fill="#a0fd1e"/>
<rect x="208.52" y="646.15" width="10.77" height="12.85" fill="#a0fd1e"/>
<rect x="218.29" y="646.15" width="10.77" height="12.85" fill="#a0fd1e"/>
<rect x="228.06" y="646.15" width="10.77" height="12.85" fill="#a0fd1e"/>
<rect x="237.83" y="646.15" width="9.77" height="12.85" fill="#a0fd1e"/>
<path d="M80.00,491.90 V660.30 H247.10" fill="none" stroke="#000" stroke-width="1.35" stroke-linecap="square"/>
<line x1="86.39" y1="660.30" x2="86.39" y2="668.70" stroke="#000" stroke-width="1.35"/>
<text x="86.39" y="682.30" font-size="11" text-anchor="middle" fill="#000" >0.0</text>
<line x1="125.47" y1="660.30" x2="125.47" y2="668.70" stroke="#000" stroke-width="1.35"/>
<text x="125.47" y="682.30" font-size="11" text-anchor="middle" fill="#000" >0.2</text>
<line x1="164.55" y1="660.30" x2="164.55" y2="668.70" stroke="#000" stroke-width="1.35"/>
<text x="164.55" y="682.30" font-size="11" text-anchor="middle" fill="#000" >0.4</text>
<line x1="203.63" y1="660.30" x2="203.63" y2="668.70" stroke="#000" stroke-width="1.35"/>
<text x="203.63" y="682.30" font-size="11" text-anchor="middle" fill="#000" >0.6</text>
<line x1="242.71" y1="660.30" x2="242.71" y2="668.70" stroke="#000" stroke-width="1.35"/>
<text x="242.71" y="682.30" font-size="11" text-anchor="middle" fill="#000" >0.8</text>
<line x1="71.30" y1="652.57" x2="80.00" y2="652.57" stroke="#000" stroke-width="1.35"/>
<text x="67.30" y="656.47" font-size="11" text-anchor="end" fill="#000" >0.00</text>
<line x1="71.30" y1="626.87" x2="80.00" y2="626.87" stroke="#000" stroke-width="1.35"/>
<text x="67.30" y="630.77" font-size="11" text-anchor="end" fill="#000" >0.05</text>
<line x1="71.30" y1="601.16" x2="80.00" y2="601.16" stroke="#000" stroke-width="1.35"/>
<text x="67.30" y="605.06" font-size="11" text-anchor="end" fill="#000" >0.10</text>
<line x1="71.30" y1="575.45" x2="80.00" y2="575.45" stroke="#000" stroke-width="1.35"/>
<text x="67.30" y="579.35" font-size="11" text-anchor="end" fill="#000" >0.15</text>
<line x1="71.30" y1="549.74" x2="80.00" y2="549.74" stroke="#000" stroke-width="1.35"/>
<text x="67.30" y="553.64" font-size="11" text-anchor="end" fill="#000" >0.20</text>
<line x1="71.30" y1="524.03" x2="80.00" y2="524.03" stroke="#000" stroke-width="1.35"/>
<text x="67.30" y="527.93" font-size="11" text-anchor="end" fill="#000" >0.25</text>
<line x1="71.30" y1="498.33" x2="80.00" y2="498.33" stroke="#000" stroke-width="1.35"/>
<text x="67.30" y="502.23" font-size="11" text-anchor="end" fill="#000" >0.30</text>
<text x="164.85" y="694.50" font-size="11" text-anchor="middle" fill="#000" >mitochondria cross-section occupancy</text>
<text transform="translate(36.20,572.80) rotate(-90)" font-size="11" text-anchor="middle" fill="#000">longitudinal coverage</text>
<rect x="81.40" y="720.90" width="10.78" height="13.95" fill="#ff1d0d"/>
<rect x="91.18" y="720.90" width="10.78" height="13.95" fill="#ff1d0d"/>
<rect x="100.96" y="720.90" width="10.78" height="13.95" fill="#fe240f"/>
<rect x="110.75" y="720.90" width="10.78" height="13.95" fill="#fd3313"/>
<rect x="120.53" y="720.90" width="10.78" height="13.95" fill="#fc4117"/>
<rect x="130.31" y="720.90" width="10.78" height="13.95" fill="#fb4f1b"/>
<rect x="140.09" y="720.90" width="10.78" height="13.95" fill="#f86a20"/>
<rect x="149.88" y="720.90" width="10.78" height="13.95" fill="#f57f23"/>
<rect x="159.66" y="720.90" width="10.78" height="13.95" fill="#f09f28"/>
<rect x="169.44" y="720.90" width="10.78" height="13.95" fill="#f4d232"/>
<rect x="179.22" y="720.90" width="10.78" height="13.95" fill="#f4f138"/>
<rect x="189.01" y="720.90" width="10.78" height="13.95" fill="#ebff3a"/>
<rect x="198.79" y="720.90" width="10.78" height="13.95" fill="#c6ff2b"/>
<rect x="208.57" y="720.90" width="10.78" height="13.95" fill="#98fd1b"/>
<rect x="218.35" y="720.90" width="10.78" height="13.95" fill="#64fb10"/>
<rect x="228.14" y="720.90" width="10.78" height="13.95" fill="#3bfa0f"/>
<rect x="237.92" y="720.90" width="9.78" height="13.95" fill="#47fa6b"/>
<rect x="81.40" y="733.85" width="10.78" height="13.95" fill="#ff1d0d"/>
<rect x="91.18" y="733.85" width="10.78" height="13.95" fill="#ff1d0d"/>
<rect x="100.96" y="733.85" width="10.78" height="13.95" fill="#fe240f"/>
<rect x="110.75" y="733.85" width="10.78" height="13.95" fill="#fd3313"/>
<rect x="120.53" y="733.85" width="10.78" height="13.95" fill="#fc4117"/>
<rect x="130.31" y="733.85" width="10.78" height="13.95" fill="#fb4f1b"/>
<rect x="140.09" y="733.85" width="10.78" height="13.95" fill="#f95f1f"/>
<rect x="149.88" y="733.85" width="10.78" height="13.95" fill="#f67522"/>
<rect x="159.66" y="733.85" width="10.78" height="13.95" fill="#f29526"/>
<rect x="169.44" y="733.85" width="10.78" height="13.95" fill="#f2b82d"/>
<rect x="179.22" y="733.85" width="10.78" height="13.95" fill="#f5e937"/>
<rect x="189.01" y="733.85" width="10.78" height="13.95" fill="#eefd3a"/>
<rect x="198.79" y="733.85" width="10.78" height="13.95" fill="#d5ff31"/>
<rect x="208.57" y="733.85" width="10.78" height="13.95" fill="#a8fe21"/>
<rect x="218.35" y="733.85" width="10.78" height="13.95" fill="#7afc13"/>
<rect x="228.14" y="733.85" width="10.78" height="13.95" fill="#3ffa0a"/>
<rect x="237.92" y="733.85" width="9.78" height="13.95" fill="#40fa43"/>
<rect x="81.40" y="746.79" width="10.78" height="13.95" fill="#ff1d0d"/>
<rect x="91.18" y="746.79" width="10.78" height="13.95" fill="#ff1d0d"/>
<rect x="100.96" y="746.79" width="10.78" height="13.95" fill="#fe240f"/>
<rect x="110.75" y="746.79" width="10.78" height="13.95" fill="#fe2b11"/>
<rect x="120.53" y="746.79" width="10.78" height="13.95" fill="#fd3a15"/>
<rect x="130.31" y="746.79" width="10.78" height="13.95" fill="#fb4819"/>
<rect x="140.09" y="746.79" width="10.78" height="13.95" fill="#fa561d"/>
<rect x="149.88" y="746.79" width="10.78" height="13.95" fill="#f86a20"/>
<rect x="159.66" y="746.79" width="10.78" height="13.95" fill="#f38a25"/>
<rect x="169.44" y="746.79" width="10.78" height="13.95" fill="#f1ac2a"/>
<rect x="179.22" y="746.79" width="10.78" height="13.95" fill="#f4d232"/>
<rect x="189.01" y="746.79" width="10.78" height="13.95" fill="#f3fa3a"/>
<rect x="198.79" y="746.79" width="10.78" height="13.95" fill="#e4ff37"/>
<rect x="208.57" y="746.79" width="10.78" height="13.95" fill="#bfff28"/>
<rect x="218.35" y="746.79" width="10.78" height="13.95" fill="#91fd19"/>
<rect x="228.14" y="746.79" width="10.78" height="13.95" fill="#55fb0d"/>
<rect x="237.92" y="746.79" width="9.78" height="13.95" fill="#38fa15"/>
<rect x="81.40" y="759.74" width="10.78" height="13.95" fill="#ff1d0d"/>
<rect x="91.18" y="759.74" width="10.78" height="13.95" fill="#ff1d0d"/>
<rect x="100.96" y="759.74" width="10.78" height="13.95" fill="#fe240f"/>
<rect x="110.75" y="759.74" width="10.78" height="13.95" fill="#fe2b11"/>
<rect x="120.53" y="759.74" width="10.78" height="13.95" fill="#fd3313"/>
<rect x="130.31" y="759.74" width="10.78" height="13.95" fill="#fc4117"/>
<rect x="140.09" y="759.74" width="10.78" height="13.95" fill="#fb4f1b"/>
<rect x="149.88" y="759.74" width="10.78" height="13.95" fill="#f95f1f"/>
<rect x="159.66" y="759.74" width="10.78" height="13.95" fill="#f67522"/>
<rect x="169.44" y="759.74" width="10.78" height="13.95" fill="#f29526"/>
<rect x="179.22" y="759.74" width="10.78" height="13.95" fill="#f2b82d"/>
<rect x="189.01" y="759.74" width="10.78" height="13.95" fill="#f5e937"/>
<rect x="198.79" y="759.74" width="10.78" height="13.95" fill="#eefd3a"/>
<rect x="208.57" y="759.74" width="10.78" height="13.95" fill="#cdff2e"/>
<rect x="218.35" y="759.74" width="10.78" height="13.95" fill="#a8fe21"/>
<rect x="228.14" y="759.74" width="10.78" height="13.95" fill="#6bfb11"/>
<rect x="237.92" y="759.74" width="9.78" height="13.95" fill="#3bfa0f"/>
<rect x="81.40" y="772.68" width="10.78" height="13.95" fill="#ff1d0d"/>
<rect x="91.18" y="772.68" width="10.78" height="13.95" fill="#ff1d0d"/>
<rect x="100.96" y="772.68" width="10.78" height="13.95" fill="#ff1d0d"/>
<rect x="110.75" y="772.68" width="10.78" height="13.95" fill="#fe2b11"/>
<rect x="120.53" y="772.68" width="10.78" height="13.95" fill="#fd3313"/>
<rect x="130.31" y="772.68" width="10.78" height="13.95" fill="#fd3a15"/>
<rect x="140.09" y="772.68" width="10.78" height="13.95" fill="#fb4819"/>
<rect x="149.88" y="772.68" width="10.78" height="13.95" fill="#fa561d"/>
<rect x="159.66" y="772.68" width="10.78" height="13.95" fill="#f86a20"/>
<rect x="169.44" y="772.68" width="10.78" height="13.95" fill="#f57f23"/>
<rect x="179.22" y="772.68" width="10.78" height="13.95" fill="#f09f28"/>
<rect x="189.01" y="772.68" width="10.78" height="13.95" fill="#f3c530"/>
<rect x="198.79" y="772.68" width="10.78" height="13.95" fill="#f4f138"/>
<rect x="208.57" y="772.68" width="10.78" height="13.95" fill="#e4ff37"/>
<rect x="218.35" y="772.68" width="10.78" height="13.95" fill="#bfff28"/>
<rect x="228.14" y="772.68" width="10.78" height="13.95" fill="#89fc16"/>
<rect x="237.92" y="772.68" width="9.78" height="13.95" fill="#46fa0b"/>
<rect x="81.40" y="785.63" width="10.78" height="13.95" fill="#ff1d0d"/>
<rect x="91.18" y="785.63" width="10.78" height="13.95" fill="#ff1d0d"/>
<rect x="100.96" y="785.63" width="10.78" height="13.95" fill="#ff1d0d"/>
<rect x="110.75" y="785.63" width="10.78" height="13.95" fill="#fe240f"/>
<rect x="120.53" y="785.63" width="10.78" height="13.95" fill="#fe2b11"/>
<rect x="130.31" y="785.63" width="10.78" height="13.95" fill="#fd3a15"/>
<rect x="140.09" y="785.63" width="10.78" height="13.95" fill="#fc4117"/>
<rect x="149.88" y="785.63" width="10.78" height="13.95" fill="#fb4f1b"/>
<rect x="159.66" y="785.63" width="10.78" height="13.95" fill="#f95f1f"/>
<rect x="169.44" y="785.63" width="10.78" height="13.95" fill="#f67522"/>
<rect x="179.22" y="785.63" width="10.78" height="13.95" fill="#f38a25"/>
<rect x="189.01" y="785.63" width="10.78" height="13.95" fill="#f1ac2a"/>
<rect x="198.79" y="785.63" width="10.78" height="13.95" fill="#f5de35"/>
<rect x="208.57" y="785.63" width="10.78" height="13.95" fill="#f1fc3a"/>
<rect x="218.35" y="785.63" width="10.78" height="13.95" fill="#d5ff31"/>
<rect x="228.14" y="785.63" width="10.78" height="13.95" fill="#a8fe21"/>
<rect x="237.92" y="785.63" width="9.78" height="13.95" fill="#64fb10"/>
<rect x="81.40" y="798.58" width="10.78" height="13.95" fill="#ff1d0d"/>
<rect x="91.18" y="798.58" width="10.78" height="13.95" fill="#ff1d0d"/>
<rect x="100.96" y="798.58" width="10.78" height="13.95" fill="#ff1d0d"/>
<rect x="110.75" y="798.58" width="10.78" height="13.95" fill="#fe240f"/>
<rect x="120.53" y="798.58" width="10.78" height="13.95" fill="#fe2b11"/>
<rect x="130.31" y="798.58" width="10.78" height="13.95" fill="#fd3313"/>
<rect x="140.09" y="798.58" width="10.78" height="13.95" fill="#fd3a15"/>
<rect x="149.88" y="798.58" width="10.78" height="13.95" fill="#fb4819"/>
<rect x="159.66" y="798.58" width="10.78" height="13.95" fill="#fb4f1b"/>
<rect x="169.44" y="798.58" width="10.78" height="13.95" fill="#f95f1f"/>
<rect x="179.22" y="798.58" width="10.78" height="13.95" fill="#f67522"/>
<rect x="189.01" y="798.58" width="10.78" height="13.95" fill="#f29526"/>
<rect x="198.79" y="798.58" width="10.78" height="13.95" fill="#f2b82d"/>
<rect x="208.57" y="798.58" width="10.78" height="13.95" fill="#f5e937"/>
<rect x="218.35" y="798.58" width="10.78" height="13.95" fill="#eefd3a"/>
<rect x="228.14" y="798.58" width="10.78" height="13.95" fill="#c6ff2b"/>
<rect x="237.92" y="798.58" width="9.78" height="13.95" fill="#89fc16"/>
<rect x="81.40" y="811.52" width="10.78" height="13.95" fill="#ff1d0d"/>
<rect x="91.18" y="811.52" width="10.78" height="13.95" fill="#ff1d0d"/>
<rect x="100.96" y="811.52" width="10.78" height="13.95" fill="#ff1d0d"/>
<rect x="110.75" y="811.52" width="10.78" height="13.95" fill="#ff1d0d"/>
<rect x="120.53" y="811.52" width="10.78" height="13.95" fill="#fe240f"/>
<rect x="130.31" y="811.52" width="10.78" height="13.95" fill="#fe2b11"/>
<rect x="140.09" y="811.52" width="10.78" height="13.95" fill="#fd3313"/>
<rect x="149.88" y="811.52" width="10.78" height="13.95" fill="#fd3a15"/>
<rect x="159.66" y="811.52" width="10.78" height="13.95" fill="#fb4819"/>
<rect x="169.44" y="811.52" width="10.78" height="13.95" fill="#fb4f1b"/>
<rect x="179.22" y="811.52" width="10.78" height="13.95" fill="#f95f1f"/>
<rect x="189.01" y="811.52" width="10.78" height="13.95" fill="#f57f23"/>
<rect x="198.79" y="811.52" width="10.78" height="13.95" fill="#f29526"/>
<rect x="208.57" y="811.52" width="10.78" height="13.95" fill="#f3c530"/>
<rect x="218.35" y="811.52" width="10.78" height="13.95" fill="#f4f138"/>
<rect x="228.14" y="811.52" width="10.78" height="13.95" fill="#e4ff37"/>
<rect x="237.92" y="811.52" width="9.78" height="13.95" fill="#affe23"/>
<rect x="81.40" y="824.47" width="10.78" height="13.95" fill="#ff1d0d"/>
<rect x="91.18" y="824.47" width="10.78" height="13.95" fill="#ff1d0d"/>
<rect x="100.96" y="824.47" width="10.78" height="13.95" fill="#ff1d0d"/>
<rect x="110.75" y="824.47" width="10.78" height="13.95" fill="#ff1d0d"/>
<rect x="120.53" y="824.47" width="10.78" height="13.95" fill="#fe240f"/>
<rect x="130.31" y="824.47" width="10.78" height="13.95" fill="#fe240f"/>
<rect x="140.09" y="824.47" width="10.78" height="13.95" fill="#fe2b11"/>
<rect x="149.88" y="824.47" width="10.78" height="13.95" fill="#fd3313"/>
<rect x="159.66" y="824.47" width="10.78" height="13.95" fill="#fd3a15"/>
<rect x="169.44" y="824.47" width="10.78" height="13.95" fill="#fb4819"/>
<rect x="179.22" y="824.47" width="10.78" height="13.95" fill="#fb4f1b"/>
<rect x="189.01" y="824.47" width="10.78" height="13.95" fill="#f95f1f"/>
<rect x="198.79" y="824.47" width="10.78" height="13.95" fill="#f67522"/>
<rect x="208.57" y="824.47" width="10.78" height="13.95" fill="#f29526"/>
<rect x="218.35" y="824.47" width="10.78" height="13.95" fill="#f3c530"/>
<rect x="228.14" y="824.47" width="10.78" height="13.95" fill="#f4f138"/>
<rect x="237.92" y="824.47" width="9.78" height="13.95" fill="#dcff34"/>
<rect x="81.40" y="837.42" width="10.78" height="13.95" fill="#ff1d0d"/>
<rect x="91.18" y="837.42" width="10.78" height="13.95" fill="#ff1d0d"/>
<rect x="100.96" y="837.42" width="10.78" height="13.95" fill="#ff1d0d"/>
<rect x="110.75" y="837.42" width="10.78" height="13.95" fill="#ff1d0d"/>
<rect x="120.53" y="837.42" width="10.78" height="13.95" fill="#ff1d0d"/>
<rect x="130.31" y="837.42" width="10.78" height="13.95" fill="#fe240f"/>
<rect x="140.09" y="837.42" width="10.78" height="13.95" fill="#fe240f"/>
<rect x="149.88" y="837.42" width="10.78" height="13.95" fill="#fe2b11"/>
<rect x="159.66" y="837.42" width="10.78" height="13.95" fill="#fd3313"/>
<rect x="169.44" y="837.42" width="10.78" height="13.95" fill="#fd3a15"/>
<rect x="179.22" y="837.42" width="10.78" height="13.95" fill="#fc4117"/>
<rect x="189.01" y="837.42" width="10.78" height="13.95" fill="#fb4f1b"/>
<rect x="198.79" y="837.42" width="10.78" height="13.95" fill="#fa561d"/>
<rect x="208.57" y="837.42" width="10.78" height="13.95" fill="#f67522"/>
<rect x="218.35" y="837.42" width="10.78" height="13.95" fill="#f38a25"/>
<rect x="228.14" y="837.42" width="10.78" height="13.95" fill="#f2b82d"/>
<rect x="237.92" y="837.42" width="9.78" height="13.95" fill="#f4f138"/>
<rect x="81.40" y="850.36" width="10.78" height="13.95" fill="#ff1d0d"/>
<rect x="91.18" y="850.36" width="10.78" height="13.95" fill="#ff1d0d"/>
<rect x="100.96" y="850.36" width="10.78" height="13.95" fill="#ff1d0d"/>
<rect x="110.75" y="850.36" width="10.78" height="13.95" fill="#ff1d0d"/>
<rect x="120.53" y="850.36" width="10.78" height="13.95" fill="#ff1d0d"/>
<rect x="130.31" y="850.36" width="10.78" height="13.95" fill="#ff1d0d"/>
<rect x="140.09" y="850.36" width="10.78" height="13.95" fill="#ff1d0d"/>
<rect x="149.88" y="850.36" width="10.78" height="13.95" fill="#fe240f"/>
<rect x="159.66" y="850.36" width="10.78" height="13.95" fill="#fe240f"/>
<rect x="169.44" y="850.36" width="10.78" height="13.95" fill="#fe2b11"/>
<rect x="179.22" y="850.36" width="10.78" height="13.95" fill="#fd3313"/>
<rect x="189.01" y="850.36" width="10.78" height="13.95" fill="#fd3a15"/>
<rect x="198.79" y="850.36" width="10.78" height="13.95" fill="#fc4117"/>
<rect x="208.57" y="850.36" width="10.78" height="13.95" fill="#fb4f1b"/>
<rect x="218.35" y="850.36" width="10.78" height="13.95" fill="#f95f1f"/>
<rect x="228.14" y="850.36" width="10.78" height="13.95" fill="#f67522"/>
<rect x="237.92" y="850.36" width="9.78" height="13.95" fill="#f09f28"/>
<rect x="81.40" y="863.31" width="10.78" height="13.95" fill="#ff1d0d"/>
<rect x="91.18" y="863.31" width="10.78" height="13.95" fill="#ff1d0d"/>
<rect x="100.96" y="863.31" width="10.78" height="13.95" fill="#ff1d0d"/>
<rect x="110.75" y="863.31" width="10.78" height="13.95" fill="#ff1d0d"/>
<rect x="120.53" y="863.31" width="10.78" height="13.95" fill="#ff1d0d"/>
<rect x="130.31" y="863.31" width="10.78" height="13.95" fill="#ff1d0d"/>
<rect x="140.09" y="863.31" width="10.78" height="13.95" fill="#ff1d0d"/>
<rect x="149.88" y="863.31" width="10.78" height="13.95" fill="#ff1d0d"/>
<rect x="159.66" y="863.31" width="10.78" height="13.95" fill="#ff1d0d"/>
<rect x="169.44" y="863.31" width="10.78" height="13.95" fill="#ff1d0d"/>
<rect x="179.22" y="863.31" width="10.78" height="13.95" fill="#fe240f"/>
<rect x="189.01" y="863.31" width="10.78" height="13.95" fill="#fe240f"/>
<rect x="198.79" y="863.31" width="10.78" height="13.95" fill="#fe2b11"/>
<rect x="208.57" y="863.31" width="10.78" height="13.95" fill="#fd3313"/>
<rect x="218.35" y="863.31" width="10.78" height="13.95" fill="#fd3a15"/>
<rect x="228.14" y="863.31" width="10.78" height="13.95" fill="#fc4117"/>
<rect x="237.92" y="863.31" width="9.78" height="13.95" fill="#fb4f1b"/>
<rect x="81.40" y="876.25" width="10.78" height="12.95" fill="#ff1d0d"/>
<rect x="91.18" y="876.25" width="10.78" height="12.95" fill="#ff1d0d"/>
<rect x="100.96" y="876.25" width="10.78" height="12.95" fill="#ff1d0d"/>
<rect x="110.75" y="876.25" width="10.78" height="12.95" fill="#ff1d0d"/>
<rect x="120.53" y="876.25" width="10.78" height="12.95" fill="#ff1d0d"/>
<rect x="130.31" y="876.25" width="10.78" height="12.95" fill="#ff1d0d"/>
<rect x="140.09" y="876.25" width="10.78" height="12.95" fill="#ff1d0d"/>
<rect x="149.88" y="876.25" width="10.78" height="12.95" fill="#ff1d0d"/>
<rect x="159.66" y="876.25" width="10.78" height="12.95" fill="#ff1d0d"/>
<rect x="169.44" y="876.25" width="10.78" height="12.95" fill="#ff1d0d"/>
<rect x="179.22" y="876.25" width="10.78" height="12.95" fill="#ff1d0d"/>
<rect x="189.01" y="876.25" width="10.78" height="12.95" fill="#ff1d0d"/>
<rect x="198.79" y="876.25" width="10.78" height="12.95" fill="#ff1d0d"/>
<rect x="208.57" y="876.25" width="10.78" height="12.95" fill="#ff1d0d"/>
<rect x="218.35" y="876.25" width="10.78" height="12.95" fill="#ff1d0d"/>
<rect x="228.14" y="876.25" width="10.78" height="12.95" fill="#ff1d0d"/>
<rect x="237.92" y="876.25" width="9.78" height="12.95" fill="#ff1d0d"/>
<path d="M80.00,720.90 V890.60 H247.20" fill="none" stroke="#000" stroke-width="1.35" stroke-linecap="square"/>
<line x1="86.29" y1="890.60" x2="86.29" y2="899.00" stroke="#000" stroke-width="1.35"/>
<text x="86.29" y="912.20" font-size="11" text-anchor="middle" fill="#000" >0.0</text>
<line x1="125.42" y1="890.60" x2="125.42" y2="899.00" stroke="#000" stroke-width="1.35"/>
<text x="125.42" y="912.20" font-size="11" text-anchor="middle" fill="#000" >0.2</text>
<line x1="164.55" y1="890.60" x2="164.55" y2="899.00" stroke="#000" stroke-width="1.35"/>
<text x="164.55" y="912.20" font-size="11" text-anchor="middle" fill="#000" >0.4</text>
<line x1="203.68" y1="890.60" x2="203.68" y2="899.00" stroke="#000" stroke-width="1.35"/>
<text x="203.68" y="912.20" font-size="11" text-anchor="middle" fill="#000" >0.6</text>
<line x1="242.81" y1="890.60" x2="242.81" y2="899.00" stroke="#000" stroke-width="1.35"/>
<text x="242.81" y="912.20" font-size="11" text-anchor="middle" fill="#000" >0.8</text>
<line x1="71.30" y1="882.73" x2="80.00" y2="882.73" stroke="#000" stroke-width="1.35"/>
<text x="67.30" y="886.63" font-size="11" text-anchor="end" fill="#000" >0.00</text>
<line x1="71.30" y1="856.83" x2="80.00" y2="856.83" stroke="#000" stroke-width="1.35"/>
<text x="67.30" y="860.73" font-size="11" text-anchor="end" fill="#000" >0.05</text>
<line x1="71.30" y1="830.94" x2="80.00" y2="830.94" stroke="#000" stroke-width="1.35"/>
<text x="67.30" y="834.84" font-size="11" text-anchor="end" fill="#000" >0.10</text>
<line x1="71.30" y1="805.05" x2="80.00" y2="805.05" stroke="#000" stroke-width="1.35"/>
<text x="67.30" y="808.95" font-size="11" text-anchor="end" fill="#000" >0.15</text>
<line x1="71.30" y1="779.16" x2="80.00" y2="779.16" stroke="#000" stroke-width="1.35"/>
<text x="67.30" y="783.06" font-size="11" text-anchor="end" fill="#000" >0.20</text>
<line x1="71.30" y1="753.27" x2="80.00" y2="753.27" stroke="#000" stroke-width="1.35"/>
<text x="67.30" y="757.17" font-size="11" text-anchor="end" fill="#000" >0.25</text>
<line x1="71.30" y1="727.37" x2="80.00" y2="727.37" stroke="#000" stroke-width="1.35"/>
<text x="67.30" y="731.27" font-size="11" text-anchor="end" fill="#000" >0.30</text>
<text x="164.85" y="924.50" font-size="11" text-anchor="middle" fill="#000" >mitochondria cross-section occupancy</text>
<text transform="translate(36.20,804.80) rotate(-90)" font-size="11" text-anchor="middle" fill="#000">longitudinal coverage</text>
<rect x="434.90" y="268.90" width="10.54" height="13.00" fill="#8f0dff"/>
<rect x="444.44" y="268.90" width="10.54" height="13.00" fill="#840bff"/>
<rect x="453.98" y="268.90" width="10.54" height="13.00" fill="#6b07ff"/>
<rect x="463.52" y="268.90" width="10.54" height="13.00" fill="#3f03ff"/>
<rect x="473.06" y="268.90" width="10.54" height="13.00" fill="#2d02ff"/>
<rect x="482.61" y="268.90" width="10.54" height="13.00" fill="#2303ff"/>
<rect x="492.15" y="268.90" width="10.54" height="13.00" fill="#2104ff"/>
<rect x="501.69" y="268.90" width="10.54" height="13.00" fill="#1e06ff"/>
<rect x="511.23" y="268.90" width="10.54" height="13.00" fill="#2b36ff"/>
<rect x="520.77" y="268.90" width="10.54" height="13.00" fill="#437fff"/>
<rect x="530.31" y="268.90" width="10.54" height="13.00" fill="#61c8ff"/>
<rect x="539.85" y="268.90" width="10.54" height="13.00" fill="#79fcff"/>
<rect x="549.39" y="268.90" width="10.54" height="13.00" fill="#62feb8"/>
<rect x="558.94" y="268.90" width="10.54" height="13.00" fill="#3afa28"/>
<rect x="568.48" y="268.90" width="10.54" height="13.00" fill="#64fb10"/>
<rect x="578.02" y="268.90" width="10.54" height="13.00" fill="#e4ff37"/>
<rect x="587.56" y="268.90" width="9.54" height="13.00" fill="#fe2b11"/>
<rect x="434.90" y="280.90" width="10.54" height="13.00" fill="#8f0dff"/>
<rect x="444.44" y="280.90" width="10.54" height="13.00" fill="#840bff"/>
<rect x="453.98" y="280.90" width="10.54" height="13.00" fill="#6b07ff"/>
<rect x="463.52" y="280.90" width="10.54" height="13.00" fill="#4d04ff"/>
<rect x="473.06" y="280.90" width="10.54" height="13.00" fill="#3402ff"/>
<rect x="482.61" y="280.90" width="10.54" height="13.00" fill="#2402ff"/>
<rect x="492.15" y="280.90" width="10.54" height="13.00" fill="#2204ff"/>
<rect x="501.69" y="280.90" width="10.54" height="13.00" fill="#2005ff"/>
<rect x="511.23" y="280.90" width="10.54" height="13.00" fill="#241bff"/>
<rect x="520.77" y="280.90" width="10.54" height="13.00" fill="#3860ff"/>
<rect x="530.31" y="280.90" width="10.54" height="13.00" fill="#55abff"/>
<rect x="539.85" y="280.90" width="10.54" height="13.00" fill="#73f1ff"/>
<rect x="549.39" y="280.90" width="10.54" height="13.00" fill="#71ffe3"/>
<rect x="558.94" y="280.90" width="10.54" height="13.00" fill="#47fa6b"/>
<rect x="568.48" y="280.90" width="10.54" height="13.00" fill="#3ffa0a"/>
<rect x="578.02" y="280.90" width="10.54" height="13.00" fill="#b7ff26"/>
<rect x="587.56" y="280.90" width="9.54" height="13.00" fill="#f86a20"/>
<rect x="434.90" y="292.90" width="10.54" height="13.00" fill="#8f0dff"/>
<rect x="444.44" y="292.90" width="10.54" height="13.00" fill="#840bff"/>
<rect x="453.98" y="292.90" width="10.54" height="13.00" fill="#6b07ff"/>
<rect x="463.52" y="292.90" width="10.54" height="13.00" fill="#4d04ff"/>
<rect x="473.06" y="292.90" width="10.54" height="13.00" fill="#3402ff"/>
<rect x="482.61" y="292.90" width="10.54" height="13.00" fill="#2702ff"/>
<rect x="492.15" y="292.90" width="10.54" height="13.00" fill="#2203ff"/>
<rect x="501.69" y="292.90" width="10.54" height="13.00" fill="#2004ff"/>
<rect x="511.23" y="292.90" width="10.54" height="13.00" fill="#1e06ff"/>
<rect x="520.77" y="292.90" width="10.54" height="13.00" fill="#2b36ff"/>
<rect x="530.31" y="292.90" width="10.54" height="13.00" fill="#437fff"/>
<rect x="539.85" y="292.90" width="10.54" height="13.00" fill="#67d6ff"/>
<rect x="549.39" y="292.90" width="10.54" height="13.00" fill="#79fffd"/>
<rect x="558.94" y="292.90" width="10.54" height="13.00" fill="#5dfda9"/>
<rect x="568.48" y="292.90" width="10.54" height="13.00" fill="#38fa15"/>
<rect x="578.02" y="292.90" width="10.54" height="13.00" fill="#81fc14"/>
<rect x="587.56" y="292.90" width="9.54" height="13.00" fill="#f3c530"/>
<rect x="434.90" y="304.90" width="10.54" height="13.00" fill="#8f0dff"/>
<rect x="444.44" y="304.90" width="10.54" height="13.00" fill="#840bff"/>
<rect x="453.98" y="304.90" width="10.54" height="13.00" fill="#7a09ff"/>
<rect x="463.52" y="304.90" width="10.54" height="13.00" fill="#5c05ff"/>
<rect x="473.06" y="304.90" width="10.54" height="13.00" fill="#3f03ff"/>
<rect x="482.61" y="304.90" width="10.54" height="13.00" fill="#2d02ff"/>
<rect x="492.15" y="304.90" width="10.54" height="13.00" fill="#2303ff"/>
<rect x="501.69" y="304.90" width="10.54" height="13.00" fill="#2204ff"/>
<rect x="511.23" y="304.90" width="10.54" height="13.00" fill="#1f05ff"/>
<rect x="520.77" y="304.90" width="10.54" height="13.00" fill="#241bff"/>
<rect x="530.31" y="304.90" width="10.54" height="13.00" fill="#3860ff"/>
<rect x="539.85" y="304.90" width="10.54" height="13.00" fill="#55abff"/>
<rect x="549.39" y="304.90" width="10.54" height="13.00" fill="#73f1ff"/>
<rect x="558.94" y="304.90" width="10.54" height="13.00" fill="#71ffe3"/>
<rect x="568.48" y="304.90" width="10.54" height="13.00" fill="#42fa50"/>
<rect x="578.02" y="304.90" width="10.54" height="13.00" fill="#55fb0d"/>
<rect x="587.56" y="304.90" width="9.54" height="13.00" fill="#e4ff37"/>
<rect x="434.90" y="316.90" width="10.54" height="13.00" fill="#8f0dff"/>
<rect x="444.44" y="316.90" width="10.54" height="13.00" fill="#840bff"/>
<rect x="453.98" y="316.90" width="10.54" height="13.00" fill="#7a09ff"/>
<rect x="463.52" y="316.90" width="10.54" height="13.00" fill="#5c05ff"/>
<rect x="473.06" y="316.90" width="10.54" height="13.00" fill="#4d04ff"/>
<rect x="482.61" y="316.90" width="10.54" height="13.00" fill="#3402ff"/>
<rect x="492.15" y="316.90" width="10.54" height="13.00" fill="#2702ff"/>
<rect x="501.69" y="316.90" width="10.54" height="13.00" fill="#2203ff"/>
<rect x="511.23" y="316.90" width="10.54" height="13.00" fill="#2004ff"/>
<rect x="520.77" y="316.90" width="10.54" height="13.00" fill="#1e06ff"/>
<rect x="530.31" y="316.90" width="10.54" height="13.00" fill="#2b36ff"/>
<rect x="539.85" y="316.90" width="10.54" height="13.00" fill="#437fff"/>
<rect x="549.39" y="316.90" width="10.54" height="13.00" fill="#61c8ff"/>
<rect x="558.94" y="316.90" width="10.54" height="13.00" fill="#79fffd"/>
<rect x="568.48" y="316.90" width="10.54" height="13.00" fill="#5dfda9"/>
<rect x="578.02" y="316.90" width="10.54" height="13.00" fill="#3afa11"/>
<rect x="587.56" y="316.90" width="9.54" height="13.00" fill="#a8fe21"/>
<rect x="434.90" y="328.90" width="10.54" height="13.00" fill="#8f0dff"/>
<rect x="444.44" y="328.90" width="10.54" height="13.00" fill="#840bff"/>
<rect x="453.98" y="328.90" width="10.54" height="13.00" fill="#7a09ff"/>
<rect x="463.52" y="328.90" width="10.54" height="13.00" fill="#6b07ff"/>
<rect x="473.06" y="328.90" width="10.54" height="13.00" fill="#4d04ff"/>
<rect x="482.61" y="328.90" width="10.54" height="13.00" fill="#3f03ff"/>
<rect x="492.15" y="328.90" width="10.54" height="13.00" fill="#2d02ff"/>
<rect x="501.69" y="328.90" width="10.54" height="13.00" fill="#2402ff"/>
<rect x="511.23" y="328.90" width="10.54" height="13.00" fill="#2204ff"/>
<rect x="520.77" y="328.90" width="10.54" height="13.00" fill="#2005ff"/>
<rect x="530.31" y="328.90" width="10.54" height="13.00" fill="#200eff"/>
<rect x="539.85" y="328.90" width="10.54" height="13.00" fill="#2f44ff"/>
<rect x="549.39" y="328.90" width="10.54" height="13.00" fill="#4f9dff"/>
<rect x="558.94" y="328.90" width="10.54" height="13.00" fill="#71edff"/>
<rect x="568.48" y="328.90" width="10.54" height="13.00" fill="#73ffe9"/>
<rect x="578.02" y="328.90" width="10.54" height="13.00" fill="#42fa50"/>
<rect x="587.56" y="328.90" width="9.54" height="13.00" fill="#64fb10"/>
<rect x="434.90" y="340.90" width="10.54" height="13.00" fill="#8f0dff"/>
<rect x="444.44" y="340.90" width="10.54" height="13.00" fill="#8f0dff"/>
<rect x="453.98" y="340.90" width="10.54" height="13.00" fill="#840bff"/>
<rect x="463.52" y="340.90" width="10.54" height="13.00" fill="#6b07ff"/>
<rect x="473.06" y="340.90" width="10.54" height="13.00" fill="#5c05ff"/>
<rect x="482.61" y="340.90" width="10.54" height="13.00" fill="#4d04ff"/>
<rect x="492.15" y="340.90" width="10.54" height="13.00" fill="#3402ff"/>
<rect x="501.69" y="340.90" width="10.54" height="13.00" fill="#2702ff"/>
<rect x="511.23" y="340.90" width="10.54" height="13.00" fill="#2303ff"/>
<rect x="520.77" y="340.90" width="10.54" height="13.00" fill="#2104ff"/>
<rect x="530.31" y="340.90" width="10.54" height="13.00" fill="#1f05ff"/>
<rect x="539.85" y="340.90" width="10.54" height="13.00" fill="#241bff"/>
<rect x="549.39" y="340.90" width="10.54" height="13.00" fill="#3860ff"/>
<rect x="558.94" y="340.90" width="10.54" height="13.00" fill="#55abff"/>
<rect x="568.48" y="340.90" width="10.54" height="13.00" fill="#77f9ff"/>
<rect x="578.02" y="340.90" width="10.54" height="13.00" fill="#62feb8"/>
<rect x="587.56" y="340.90" width="9.54" height="13.00" fill="#3afa11"/>
<rect x="434.90" y="352.90" width="10.54" height="13.00" fill="#8f0dff"/>
<rect x="444.44" y="352.90" width="10.54" height="13.00" fill="#8f0dff"/>
<rect x="453.98" y="352.90" width="10.54" height="13.00" fill="#840bff"/>
<rect x="463.52" y="352.90" width="10.54" height="13.00" fill="#7a09ff"/>
<rect x="473.06" y="352.90" width="10.54" height="13.00" fill="#6b07ff"/>
<rect x="482.61" y="352.90" width="10.54" height="13.00" fill="#5c05ff"/>
<rect x="492.15" y="352.90" width="10.54" height="13.00" fill="#3f03ff"/>
<rect x="501.69" y="352.90" width="10.54" height="13.00" fill="#3402ff"/>
<rect x="511.23" y="352.90" width="10.54" height="13.00" fill="#2702ff"/>
<rect x="520.77" y="352.90" width="10.54" height="13.00" fill="#2303ff"/>
<rect x="530.31" y="352.90" width="10.54" height="13.00" fill="#2104ff"/>
<rect x="539.85" y="352.90" width="10.54" height="13.00" fill="#1f05ff"/>
<rect x="549.39" y="352.90" width="10.54" height="13.00" fill="#2729ff"/>
<rect x="558.94" y="352.90" width="10.54" height="13.00" fill="#3860ff"/>
<rect x="568.48" y="352.90" width="10.54" height="13.00" fill="#61c8ff"/>
<rect x="578.02" y="352.90" width="10.54" height="13.00" fill="#79fffd"/>
<rect x="587.56" y="352.90" width="9.54" height="13.00" fill="#4cfb7a"/>
<rect x="434.90" y="364.90" width="10.54" height="13.00" fill="#8f0dff"/>
<rect x="444.44" y="364.90" width="10.54" height="13.00" fill="#8f0dff"/>
<rect x="453.98" y="364.90" width="10.54" height="13.00" fill="#840bff"/>
<rect x="463.52" y="364.90" width="10.54" height="13.00" fill="#7a09ff"/>
<rect x="473.06" y="364.90" width="10.54" height="13.00" fill="#7a09ff"/>
<rect x="482.61" y="364.90" width="10.54" height="13.00" fill="#6b07ff"/>
<rect x="492.15" y="364.90" width="10.54" height="13.00" fill="#5c05ff"/>
<rect x="501.69" y="364.90" width="10.54" height="13.00" fill="#3f03ff"/>
<rect x="511.23" y="364.90" width="10.54" height="13.00" fill="#3402ff"/>
<rect x="520.77" y="364.90" width="10.54" height="13.00" fill="#2702ff"/>
<rect x="530.31" y="364.90" width="10.54" height="13.00" fill="#2303ff"/>
<rect x="539.85" y="364.90" width="10.54" height="13.00" fill="#2204ff"/>
<rect x="549.39" y="364.90" width="10.54" height="13.00" fill="#1f05ff"/>
<rect x="558.94" y="364.90" width="10.54" height="13.00" fill="#241bff"/>
<rect x="568.48" y="364.90" width="10.54" height="13.00" fill="#3860ff"/>
<rect x="578.02" y="364.90" width="10.54" height="13.00" fill="#61c8ff"/>
<rect x="587.56" y="364.90" width="9.54" height="13.00" fill="#73ffe9"/>
<rect x="434.90" y="376.90" width="10.54" height="13.00" fill="#8f0dff"/>
<rect x="444.44" y="376.90" width="10.54" height="13.00" fill="#8f0dff"/>
<rect x="453.98" y="376.90" width="10.54" height="13.00" fill="#8f0dff"/>
<rect x="463.52" y="376.90" width="10.54" height="13.00" fill="#840bff"/>
<rect x="473.06" y="376.90" width="10.54" height="13.00" fill="#7a09ff"/>
<rect x="482.61" y="376.90" width="10.54" height="13.00" fill="#7a09ff"/>
<rect x="492.15" y="376.90" width="10.54" height="13.00" fill="#6b07ff"/>
<rect x="501.69" y="376.90" width="10.54" height="13.00" fill="#5c05ff"/>
<rect x="511.23" y="376.90" width="10.54" height="13.00" fill="#4d04ff"/>
<rect x="520.77" y="376.90" width="10.54" height="13.00" fill="#3402ff"/>
<rect x="530.31" y="376.90" width="10.54" height="13.00" fill="#2d02ff"/>
<rect x="539.85" y="376.90" width="10.54" height="13.00" fill="#2402ff"/>
<rect x="549.39" y="376.90" width="10.54" height="13.00" fill="#2203ff"/>
<rect x="558.94" y="376.90" width="10.54" height="13.00" fill="#2004ff"/>
<rect x="568.48" y="376.90" width="10.54" height="13.00" fill="#200eff"/>
<rect x="578.02" y="376.90" width="10.54" height="13.00" fill="#3860ff"/>
<rect x="587.56" y="376.90" width="9.54" height="13.00" fill="#61c8ff"/>
<rect x="434.90" y="388.90" width="10.54" height="13.00" fill="#8f0dff"/>
<rect x="444.44" y="388.90" width="10.54" height="13.00" fill="#8f0dff"/>
<rect x="453.98" y="388.90" width="10.54" height="13.00" fill="#8f0dff"/>
<rect x="463.52" y="388.90" width="10.54" height="13.00" fill="#840bff"/>
<rect x="473.06" y="388.90" width="10.54" height="13.00" fill="#840bff"/>
<rect x="482.61" y="388.90" width="10.54" height="13.00" fill="#840bff"/>
<rect x="492.15" y="388.90" width="10.54" height="13.00" fill="#7a09ff"/>
<rect x="501.69" y="388.90" width="10.54" height="13.00" fill="#6b07ff"/>
<rect x="511.23" y="388.90" width="10.54" height="13.00" fill="#6b07ff"/>
<rect x="520.77" y="388.90" width="10.54" height="13.00" fill="#5c05ff"/>
<rect x="530.31" y="388.90" width="10.54" height="13.00" fill="#4d04ff"/>
<rect x="539.85" y="388.90" width="10.54" height="13.00" fill="#3402ff"/>
<rect x="549.39" y="388.90" width="10.54" height="13.00" fill="#2d02ff"/>
<rect x="558.94" y="388.90" width="10.54" height="13.00" fill="#2402ff"/>
<rect x="568.48" y="388.90" width="10.54" height="13.00" fill="#2204ff"/>
<rect x="578.02" y="388.90" width="10.54" height="13.00" fill="#1f05ff"/>
<rect x="587.56" y="388.90" width="9.54" height="13.00" fill="#2b36ff"/>
<rect x="434.90" y="400.90" width="10.54" height="13.00" fill="#8f0dff"/>
<rect x="444.44" y="400.90" width="10.54" height="13.00" fill="#8f0dff"/>
<rect x="453.98" y="400.90" width="10.54" height="13.00" fill="#8f0dff"/>
<rect x="463.52" y="400.90" width="10.54" height="13.00" fill="#8f0dff"/>
<rect x="473.06" y="400.90" width="10.54" height="13.00" fill="#8f0dff"/>
<rect x="482.61" y="400.90" width="10.54" height="13.00" fill="#8f0dff"/>
<rect x="492.15" y="400.90" width="10.54" height="13.00" fill="#840bff"/>
<rect x="501.69" y="400.90" width="10.54" height="13.00" fill="#840bff"/>
<rect x="511.23" y="400.90" width="10.54" height="13.00" fill="#840bff"/>
<rect x="520.77" y="400.90" width="10.54" height="13.00" fill="#7a09ff"/>
<rect x="530.31" y="400.90" width="10.54" height="13.00" fill="#7a09ff"/>
<rect x="539.85" y="400.90" width="10.54" height="13.00" fill="#6b07ff"/>
<rect x="549.39" y="400.90" width="10.54" height="13.00" fill="#5c05ff"/>
<rect x="558.94" y="400.90" width="10.54" height="13.00" fill="#4d04ff"/>
<rect x="568.48" y="400.90" width="10.54" height="13.00" fill="#3f03ff"/>
<rect x="578.02" y="400.90" width="10.54" height="13.00" fill="#2d02ff"/>
<rect x="587.56" y="400.90" width="9.54" height="13.00" fill="#2303ff"/>
<rect x="434.90" y="412.90" width="10.54" height="12.00" fill="#8f0dff"/>
<rect x="444.44" y="412.90" width="10.54" height="12.00" fill="#8f0dff"/>
<rect x="453.98" y="412.90" width="10.54" height="12.00" fill="#8f0dff"/>
<rect x="463.52" y="412.90" width="10.54" height="12.00" fill="#8f0dff"/>
<rect x="473.06" y="412.90" width="10.54" height="12.00" fill="#8f0dff"/>
<rect x="482.61" y="412.90" width="10.54" height="12.00" fill="#8f0dff"/>
<rect x="492.15" y="412.90" width="10.54" height="12.00" fill="#8f0dff"/>
<rect x="501.69" y="412.90" width="10.54" height="12.00" fill="#8f0dff"/>
<rect x="511.23" y="412.90" width="10.54" height="12.00" fill="#8f0dff"/>
<rect x="520.77" y="412.90" width="10.54" height="12.00" fill="#8f0dff"/>
<rect x="530.31" y="412.90" width="10.54" height="12.00" fill="#8f0dff"/>
<rect x="539.85" y="412.90" width="10.54" height="12.00" fill="#8f0dff"/>
<rect x="549.39" y="412.90" width="10.54" height="12.00" fill="#8f0dff"/>
<rect x="558.94" y="412.90" width="10.54" height="12.00" fill="#8f0dff"/>
<rect x="568.48" y="412.90" width="10.54" height="12.00" fill="#8f0dff"/>
<rect x="578.02" y="412.90" width="10.54" height="12.00" fill="#8f0dff"/>
<rect x="587.56" y="412.90" width="9.54" height="12.00" fill="#8f0dff"/>
<path d="M433.40,268.90 V426.40 H596.60" fill="none" stroke="#000" stroke-width="1.35" stroke-linecap="square"/>
<line x1="439.67" y1="426.40" x2="439.67" y2="434.80" stroke="#000" stroke-width="1.35"/>
<text x="439.67" y="448.00" font-size="11" text-anchor="middle" fill="#000" >0.0</text>
<line x1="477.84" y1="426.40" x2="477.84" y2="434.80" stroke="#000" stroke-width="1.35"/>
<text x="477.84" y="448.00" font-size="11" text-anchor="middle" fill="#000" >0.2</text>
<line x1="516.00" y1="426.40" x2="516.00" y2="434.80" stroke="#000" stroke-width="1.35"/>
<text x="516.00" y="448.00" font-size="11" text-anchor="middle" fill="#000" >0.4</text>
<line x1="554.16" y1="426.40" x2="554.16" y2="434.80" stroke="#000" stroke-width="1.35"/>
<text x="554.16" y="448.00" font-size="11" text-anchor="middle" fill="#000" >0.6</text>
<line x1="592.33" y1="426.40" x2="592.33" y2="434.80" stroke="#000" stroke-width="1.35"/>
<text x="592.33" y="448.00" font-size="11" text-anchor="middle" fill="#000" >0.8</text>
<line x1="424.70" y1="418.90" x2="433.40" y2="418.90" stroke="#000" stroke-width="1.35"/>
<text x="421.20" y="422.80" font-size="11" text-anchor="end" fill="#000" >0.00</text>
<line x1="424.70" y1="394.90" x2="433.40" y2="394.90" stroke="#000" stroke-width="1.35"/>
<text x="421.20" y="398.80" font-size="11" text-anchor="end" fill="#000" >0.05</text>
<line x1="424.70" y1="370.90" x2="433.40" y2="370.90" stroke="#000" stroke-width="1.35"/>
<text x="421.20" y="374.80" font-size="11" text-anchor="end" fill="#000" >0.10</text>
<line x1="424.70" y1="346.90" x2="433.40" y2="346.90" stroke="#000" stroke-width="1.35"/>
<text x="421.20" y="350.80" font-size="11" text-anchor="end" fill="#000" >0.15</text>
<line x1="424.70" y1="322.90" x2="433.40" y2="322.90" stroke="#000" stroke-width="1.35"/>
<text x="421.20" y="326.80" font-size="11" text-anchor="end" fill="#000" >0.20</text>
<line x1="424.70" y1="298.90" x2="433.40" y2="298.90" stroke="#000" stroke-width="1.35"/>
<text x="421.20" y="302.80" font-size="11" text-anchor="end" fill="#000" >0.25</text>
<line x1="424.70" y1="274.90" x2="433.40" y2="274.90" stroke="#000" stroke-width="1.35"/>
<text x="421.20" y="278.80" font-size="11" text-anchor="end" fill="#000" >0.30</text>
<text x="516.30" y="460.70" font-size="11" text-anchor="middle" fill="#000" >mitochondria cross-section occupancy</text>
<text transform="translate(388.70,346.90) rotate(-90)" font-size="11" text-anchor="middle" fill="#000">longitudinal coverage</text>
<rect x="434.90" y="491.90" width="10.71" height="13.77" fill="#8f0dff"/>
<rect x="444.61" y="491.90" width="10.71" height="13.77" fill="#840bff"/>
<rect x="454.31" y="491.90" width="10.71" height="13.77" fill="#7a09ff"/>
<rect x="464.02" y="491.90" width="10.71" height="13.77" fill="#5c05ff"/>
<rect x="473.72" y="491.90" width="10.71" height="13.77" fill="#3f03ff"/>
<rect x="483.43" y="491.90" width="10.71" height="13.77" fill="#2d02ff"/>
<rect x="493.14" y="491.90" width="10.71" height="13.77" fill="#2402ff"/>
<rect x="502.84" y="491.90" width="10.71" height="13.77" fill="#2204ff"/>
<rect x="512.55" y="491.90" width="10.71" height="13.77" fill="#2005ff"/>
<rect x="522.25" y="491.90" width="10.71" height="13.77" fill="#200eff"/>
<rect x="531.96" y="491.90" width="10.71" height="13.77" fill="#2f44ff"/>
<rect x="541.66" y="491.90" width="10.71" height="13.77" fill="#498eff"/>
<rect x="551.37" y="491.90" width="10.71" height="13.77" fill="#6de4ff"/>
<rect x="561.08" y="491.90" width="10.71" height="13.77" fill="#75fff0"/>
<rect x="570.78" y="491.90" width="10.71" height="13.77" fill="#52fb8a"/>
<rect x="580.49" y="491.90" width="10.71" height="13.77" fill="#3cfa0d"/>
<rect x="590.19" y="491.90" width="9.71" height="13.77" fill="#b7ff26"/>
<rect x="434.90" y="504.67" width="10.71" height="13.77" fill="#8f0dff"/>
<rect x="444.61" y="504.67" width="10.71" height="13.77" fill="#840bff"/>
<rect x="454.31" y="504.67" width="10.71" height="13.77" fill="#7a09ff"/>
<rect x="464.02" y="504.67" width="10.71" height="13.77" fill="#5c05ff"/>
<rect x="473.72" y="504.67" width="10.71" height="13.77" fill="#4d04ff"/>
<rect x="483.43" y="504.67" width="10.71" height="13.77" fill="#3402ff"/>
<rect x="493.14" y="504.67" width="10.71" height="13.77" fill="#2702ff"/>
<rect x="502.84" y="504.67" width="10.71" height="13.77" fill="#2203ff"/>
<rect x="512.55" y="504.67" width="10.71" height="13.77" fill="#2104ff"/>
<rect x="522.25" y="504.67" width="10.71" height="13.77" fill="#1e06ff"/>
<rect x="531.96" y="504.67" width="10.71" height="13.77" fill="#2b36ff"/>
<rect x="541.66" y="504.67" width="10.71" height="13.77" fill="#3e6fff"/>
<rect x="551.37" y="504.67" width="10.71" height="13.77" fill="#61c8ff"/>
<rect x="561.08" y="504.67" width="10.71" height="13.77" fill="#79fcff"/>
<rect x="570.78" y="504.67" width="10.71" height="13.77" fill="#68fec8"/>
<rect x="580.49" y="504.67" width="10.71" height="13.77" fill="#38fa1b"/>
<rect x="590.19" y="504.67" width="9.71" height="13.77" fill="#89fc16"/>
<rect x="434.90" y="517.44" width="10.71" height="13.77" fill="#8f0dff"/>
<rect x="444.61" y="517.44" width="10.71" height="13.77" fill="#840bff"/>
<rect x="454.31" y="517.44" width="10.71" height="13.77" fill="#7a09ff"/>
<rect x="464.02" y="517.44" width="10.71" height="13.77" fill="#6b07ff"/>
<rect x="473.72" y="517.44" width="10.71" height="13.77" fill="#4d04ff"/>
<rect x="483.43" y="517.44" width="10.71" height="13.77" fill="#3f03ff"/>
<rect x="493.14" y="517.44" width="10.71" height="13.77" fill="#2d02ff"/>
<rect x="502.84" y="517.44" width="10.71" height="13.77" fill="#2303ff"/>
<rect x="512.55" y="517.44" width="10.71" height="13.77" fill="#2204ff"/>
<rect x="522.25" y="517.44" width="10.71" height="13.77" fill="#2005ff"/>
<rect x="531.96" y="517.44" width="10.71" height="13.77" fill="#241bff"/>
<rect x="541.66" y="517.44" width="10.71" height="13.77" fill="#3251ff"/>
<rect x="551.37" y="517.44" width="10.71" height="13.77" fill="#4f9dff"/>
<rect x="561.08" y="517.44" width="10.71" height="13.77" fill="#71edff"/>
<rect x="570.78" y="517.44" width="10.71" height="13.77" fill="#71ffe3"/>
<rect x="580.49" y="517.44" width="10.71" height="13.77" fill="#42fa50"/>
<rect x="590.19" y="517.44" width="9.71" height="13.77" fill="#5cfb0e"/>
<rect x="434.90" y="530.21" width="10.71" height="13.77" fill="#8f0dff"/>
<rect x="444.61" y="530.21" width="10.71" height="13.77" fill="#840bff"/>
<rect x="454.31" y="530.21" width="10.71" height="13.77" fill="#7a09ff"/>
<rect x="464.02" y="530.21" width="10.71" height="13.77" fill="#6b07ff"/>
<rect x="473.72" y="530.21" width="10.71" height="13.77" fill="#5c05ff"/>
<rect x="483.43" y="530.21" width="10.71" height="13.77" fill="#3f03ff"/>
<rect x="493.14" y="530.21" width="10.71" height="13.77" fill="#2d02ff"/>
<rect x="502.84" y="530.21" width="10.71" height="13.77" fill="#2402ff"/>
<rect x="512.55" y="530.21" width="10.71" height="13.77" fill="#2203ff"/>
<rect x="522.25" y="530.21" width="10.71" height="13.77" fill="#2004ff"/>
<rect x="531.96" y="530.21" width="10.71" height="13.77" fill="#1e06ff"/>
<rect x="541.66" y="530.21" width="10.71" height="13.77" fill="#2b36ff"/>
<rect x="551.37" y="530.21" width="10.71" height="13.77" fill="#3e6fff"/>
<rect x="561.08" y="530.21" width="10.71" height="13.77" fill="#61c8ff"/>
<rect x="570.78" y="530.21" width="10.71" height="13.77" fill="#79fffd"/>
<rect x="580.49" y="530.21" width="10.71" height="13.77" fill="#57fc99"/>
<rect x="590.19" y="530.21" width="9.71" height="13.77" fill="#3cfa0d"/>
<rect x="434.90" y="542.98" width="10.71" height="13.77" fill="#8f0dff"/>
<rect x="444.61" y="542.98" width="10.71" height="13.77" fill="#8f0dff"/>
<rect x="454.31" y="542.98" width="10.71" height="13.77" fill="#840bff"/>
<rect x="464.02" y="542.98" width="10.71" height="13.77" fill="#7a09ff"/>
<rect x="473.72" y="542.98" width="10.71" height="13.77" fill="#5c05ff"/>
<rect x="483.43" y="542.98" width="10.71" height="13.77" fill="#4d04ff"/>
<rect x="493.14" y="542.98" width="10.71" height="13.77" fill="#3402ff"/>
<rect x="502.84" y="542.98" width="10.71" height="13.77" fill="#2d02ff"/>
<rect x="512.55" y="542.98" width="10.71" height="13.77" fill="#2303ff"/>
<rect x="522.25" y="542.98" width="10.71" height="13.77" fill="#2204ff"/>
<rect x="531.96" y="542.98" width="10.71" height="13.77" fill="#2005ff"/>
<rect x="541.66" y="542.98" width="10.71" height="13.77" fill="#200eff"/>
<rect x="551.37" y="542.98" width="10.71" height="13.77" fill="#2f44ff"/>
<rect x="561.08" y="542.98" width="10.71" height="13.77" fill="#4f9dff"/>
<rect x="570.78" y="542.98" width="10.71" height="13.77" fill="#71edff"/>
<rect x="580.49" y="542.98" width="10.71" height="13.77" fill="#6fffdc"/>
<rect x="590.19" y="542.98" width="9.71" height="13.77" fill="#3afa28"/>
<rect x="434.90" y="555.75" width="10.71" height="13.77" fill="#8f0dff"/>
<rect x="444.61" y="555.75" width="10.71" height="13.77" fill="#8f0dff"/>
<rect x="454.31" y="555.75" width="10.71" height="13.77" fill="#840bff"/>
<rect x="464.02" y="555.75" width="10.71" height="13.77" fill="#7a09ff"/>
<rect x="473.72" y="555.75" width="10.71" height="13.77" fill="#6b07ff"/>
<rect x="483.43" y="555.75" width="10.71" height="13.77" fill="#5c05ff"/>
<rect x="493.14" y="555.75" width="10.71" height="13.77" fill="#3f03ff"/>
<rect x="502.84" y="555.75" width="10.71" height="13.77" fill="#3402ff"/>
<rect x="512.55" y="555.75" width="10.71" height="13.77" fill="#2702ff"/>
<rect x="522.25" y="555.75" width="10.71" height="13.77" fill="#2303ff"/>
<rect x="531.96" y="555.75" width="10.71" height="13.77" fill="#2104ff"/>
<rect x="541.66" y="555.75" width="10.71" height="13.77" fill="#1f05ff"/>
<rect x="551.37" y="555.75" width="10.71" height="13.77" fill="#2729ff"/>
<rect x="561.08" y="555.75" width="10.71" height="13.77" fill="#3860ff"/>
<rect x="570.78" y="555.75" width="10.71" height="13.77" fill="#5bb9ff"/>
<rect x="580.49" y="555.75" width="10.71" height="13.77" fill="#79fffd"/>
<rect x="590.19" y="555.75" width="9.71" height="13.77" fill="#52fb8a"/>
<rect x="434.90" y="568.52" width="10.71" height="13.77" fill="#8f0dff"/>
<rect x="444.61" y="568.52" width="10.71" height="13.77" fill="#8f0dff"/>
<rect x="454.31" y="568.52" width="10.71" height="13.77" fill="#840bff"/>
<rect x="464.02" y="568.52" width="10.71" height="13.77" fill="#7a09ff"/>
<rect x="473.72" y="568.52" width="10.71" height="13.77" fill="#6b07ff"/>
<rect x="483.43" y="568.52" width="10.71" height="13.77" fill="#5c05ff"/>
<rect x="493.14" y="568.52" width="10.71" height="13.77" fill="#4d04ff"/>
<rect x="502.84" y="568.52" width="10.71" height="13.77" fill="#3f03ff"/>
<rect x="512.55" y="568.52" width="10.71" height="13.77" fill="#2d02ff"/>
<rect x="522.25" y="568.52" width="10.71" height="13.77" fill="#2402ff"/>
<rect x="531.96" y="568.52" width="10.71" height="13.77" fill="#2203ff"/>
<rect x="541.66" y="568.52" width="10.71" height="13.77" fill="#2104ff"/>
<rect x="551.37" y="568.52" width="10.71" height="13.77" fill="#1e06ff"/>
<rect x="561.08" y="568.52" width="10.71" height="13.77" fill="#2b36ff"/>
<rect x="570.78" y="568.52" width="10.71" height="13.77" fill="#437fff"/>
<rect x="580.49" y="568.52" width="10.71" height="13.77" fill="#6de4ff"/>
<rect x="590.19" y="568.52" width="9.71" height="13.77" fill="#6fffdc"/>
<rect x="434.90" y="581.28" width="10.71" height="13.77" fill="#8f0dff"/>
<rect x="444.61" y="581.28" width="10.71" height="13.77" fill="#8f0dff"/>
<rect x="454.31" y="581.28" width="10.71" height="13.77" fill="#840bff"/>
<rect x="464.02" y="581.28" width="10.71" height="13.77" fill="#840bff"/>
<rect x="473.72" y="581.28" width="10.71" height="13.77" fill="#7a09ff"/>
<rect x="483.43" y="581.28" width="10.71" height="13.77" fill="#6b07ff"/>
<rect x="493.14" y="581.28" width="10.71" height="13.77" fill="#5c05ff"/>
<rect x="502.84" y="581.28" width="10.71" height="13.77" fill="#4d04ff"/>
<rect x="512.55" y="581.28" width="10.71" height="13.77" fill="#3f03ff"/>
<rect x="522.25" y="581.28" width="10.71" height="13.77" fill="#2d02ff"/>
<rect x="531.96" y="581.28" width="10.71" height="13.77" fill="#2402ff"/>
<rect x="541.66" y="581.28" width="10.71" height="13.77" fill="#2203ff"/>
<rect x="551.37" y="581.28" width="10.71" height="13.77" fill="#2004ff"/>
<rect x="561.08" y="581.28" width="10.71" height="13.77" fill="#1e06ff"/>
<rect x="570.78" y="581.28" width="10.71" height="13.77" fill="#2f44ff"/>
<rect x="580.49" y="581.28" width="10.71" height="13.77" fill="#4f9dff"/>
<rect x="590.19" y="581.28" width="9.71" height="13.77" fill="#77f9ff"/>
<rect x="434.90" y="594.05" width="10.71" height="13.77" fill="#8f0dff"/>
<rect x="444.61" y="594.05" width="10.71" height="13.77" fill="#8f0dff"/>
<rect x="454.31" y="594.05" width="10.71" height="13.77" fill="#8f0dff"/>
<rect x="464.02" y="594.05" width="10.71" height="13.77" fill="#840bff"/>
<rect x="473.72" y="594.05" width="10.71" height="13.77" fill="#7a09ff"/>
<rect x="483.43" y="594.05" width="10.71" height="13.77" fill="#7a09ff"/>
<rect x="493.14" y="594.05" width="10.71" height="13.77" fill="#6b07ff"/>
<rect x="502.84" y="594.05" width="10.71" height="13.77" fill="#5c05ff"/>
<rect x="512.55" y="594.05" width="10.71" height="13.77" fill="#4d04ff"/>
<rect x="522.25" y="594.05" width="10.71" height="13.77" fill="#3f03ff"/>
<rect x="531.96" y="594.05" width="10.71" height="13.77" fill="#2d02ff"/>
<rect x="541.66" y="594.05" width="10.71" height="13.77" fill="#2402ff"/>
<rect x="551.37" y="594.05" width="10.71" height="13.77" fill="#2203ff"/>
<rect x="561.08" y="594.05" width="10.71" height="13.77" fill="#2004ff"/>
<rect x="570.78" y="594.05" width="10.71" height="13.77" fill="#1e06ff"/>
<rect x="580.49" y="594.05" width="10.71" height="13.77" fill="#2f44ff"/>
<rect x="590.19" y="594.05" width="9.71" height="13.77" fill="#5bb9ff"/>
<rect x="434.90" y="606.82" width="10.71" height="13.77" fill="#8f0dff"/>
<rect x="444.61" y="606.82" width="10.71" height="13.77" fill="#8f0dff"/>
<rect x="454.31" y="606.82" width="10.71" height="13.77" fill="#8f0dff"/>
<rect x="464.02" y="606.82" width="10.71" height="13.77" fill="#840bff"/>
<rect x="473.72" y="606.82" width="10.71" height="13.77" fill="#840bff"/>
<rect x="483.43" y="606.82" width="10.71" height="13.77" fill="#7a09ff"/>
<rect x="493.14" y="606.82" width="10.71" height="13.77" fill="#7a09ff"/>
<rect x="502.84" y="606.82" width="10.71" height="13.77" fill="#6b07ff"/>
<rect x="512.55" y="606.82" width="10.71" height="13.77" fill="#5c05ff"/>
<rect x="522.25" y="606.82" width="10.71" height="13.77" fill="#4d04ff"/>
<rect x="531.96" y="606.82" width="10.71" height="13.77" fill="#3f03ff"/>
<rect x="541.66" y="606.82" width="10.71" height="13.77" fill="#3402ff"/>
<rect x="551.37" y="606.82" width="10.71" height="13.77" fill="#2702ff"/>
<rect x="561.08" y="606.82" width="10.71" height="13.77" fill="#2303ff"/>
<rect x="570.78" y="606.82" width="10.71" height="13.77" fill="#2104ff"/>
<rect x="580.49" y="606.82" width="10.71" height="13.77" fill="#1e06ff"/>
<rect x="590.19" y="606.82" width="9.71" height="13.77" fill="#2f44ff"/>
<rect x="434.90" y="619.59" width="10.71" height="13.77" fill="#8f0dff"/>
<rect x="444.61" y="619.59" width="10.71" height="13.77" fill="#8f0dff"/>
<rect x="454.31" y="619.59" width="10.71" height="13.77" fill="#8f0dff"/>
<rect x="464.02" y="619.59" width="10.71" height="13.77" fill="#8f0dff"/>
<rect x="473.72" y="619.59" width="10.71" height="13.77" fill="#840bff"/>
<rect x="483.43" y="619.59" width="10.71" height="13.77" fill="#840bff"/>
<rect x="493.14" y="619.59" width="10.71" height="13.77" fill="#840bff"/>
<rect x="502.84" y="619.59" width="10.71" height="13.77" fill="#7a09ff"/>
<rect x="512.55" y="619.59" width="10.71" height="13.77" fill="#7a09ff"/>
<rect x="522.25" y="619.59" width="10.71" height="13.77" fill="#6b07ff"/>
<rect x="531.96" y="619.59" width="10.71" height="13.77" fill="#5c05ff"/>
<rect x="541.66" y="619.59" width="10.71" height="13.77" fill="#4d04ff"/>
<rect x="551.37" y="619.59" width="10.71" height="13.77" fill="#3f03ff"/>
<rect x="561.08" y="619.59" width="10.71" height="13.77" fill="#3402ff"/>
<rect x="570.78" y="619.59" width="10.71" height="13.77" fill="#2702ff"/>
<rect x="580.49" y="619.59" width="10.71" height="13.77" fill="#2203ff"/>
<rect x="590.19" y="619.59" width="9.71" height="13.77" fill="#2005ff"/>
<rect x="434.90" y="632.36" width="10.71" height="13.77" fill="#8f0dff"/>
<rect x="444.61" y="632.36" width="10.71" height="13.77" fill="#8f0dff"/>
<rect x="454.31" y="632.36" width="10.71" height="13.77" fill="#8f0dff"/>
<rect x="464.02" y="632.36" width="10.71" height="13.77" fill="#8f0dff"/>
<rect x="473.72" y="632.36" width="10.71" height="13.77" fill="#8f0dff"/>
<rect x="483.43" y="632.36" width="10.71" height="13.77" fill="#8f0dff"/>
<rect x="493.14" y="632.36" width="10.71" height="13.77" fill="#8f0dff"/>
<rect x="502.84" y="632.36" width="10.71" height="13.77" fill="#840bff"/>
<rect x="512.55" y="632.36" width="10.71" height="13.77" fill="#840bff"/>
<rect x="522.25" y="632.36" width="10.71" height="13.77" fill="#840bff"/>
<rect x="531.96" y="632.36" width="10.71" height="13.77" fill="#7a09ff"/>
<rect x="541.66" y="632.36" width="10.71" height="13.77" fill="#7a09ff"/>
<rect x="551.37" y="632.36" width="10.71" height="13.77" fill="#6b07ff"/>
<rect x="561.08" y="632.36" width="10.71" height="13.77" fill="#6b07ff"/>
<rect x="570.78" y="632.36" width="10.71" height="13.77" fill="#5c05ff"/>
<rect x="580.49" y="632.36" width="10.71" height="13.77" fill="#3f03ff"/>
<rect x="590.19" y="632.36" width="9.71" height="13.77" fill="#2d02ff"/>
<rect x="434.90" y="645.13" width="10.71" height="12.77" fill="#8f0dff"/>
<rect x="444.61" y="645.13" width="10.71" height="12.77" fill="#8f0dff"/>
<rect x="454.31" y="645.13" width="10.71" height="12.77" fill="#8f0dff"/>
<rect x="464.02" y="645.13" width="10.71" height="12.77" fill="#8f0dff"/>
<rect x="473.72" y="645.13" width="10.71" height="12.77" fill="#8f0dff"/>
<rect x="483.43" y="645.13" width="10.71" height="12.77" fill="#8f0dff"/>
<rect x="493.14" y="645.13" width="10.71" height="12.77" fill="#8f0dff"/>
<rect x="502.84" y="645.13" width="10.71" height="12.77" fill="#8f0dff"/>
<rect x="512.55" y="645.13" width="10.71" height="12.77" fill="#8f0dff"/>
<rect x="522.25" y="645.13" width="10.71" height="12.77" fill="#8f0dff"/>
<rect x="531.96" y="645.13" width="10.71" height="12.77" fill="#8f0dff"/>
<rect x="541.66" y="645.13" width="10.71" height="12.77" fill="#8f0dff"/>
<rect x="551.37" y="645.13" width="10.71" height="12.77" fill="#8f0dff"/>
<rect x="561.08" y="645.13" width="10.71" height="12.77" fill="#8f0dff"/>
<rect x="570.78" y="645.13" width="10.71" height="12.77" fill="#8f0dff"/>
<rect x="580.49" y="645.13" width="10.71" height="12.77" fill="#8f0dff"/>
<rect x="590.19" y="645.13" width="9.71" height="12.77" fill="#8f0dff"/>
<path d="M433.40,491.90 V659.20 H599.40" fill="none" stroke="#000" stroke-width="1.35" stroke-linecap="square"/>
<line x1="439.75" y1="659.20" x2="439.75" y2="667.60" stroke="#000" stroke-width="1.35"/>
<text x="439.75" y="680.70" font-size="11" text-anchor="middle" fill="#000" >0.0</text>
<line x1="478.58" y1="659.20" x2="478.58" y2="667.60" stroke="#000" stroke-width="1.35"/>
<text x="478.58" y="680.70" font-size="11" text-anchor="middle" fill="#000" >0.2</text>
<line x1="517.40" y1="659.20" x2="517.40" y2="667.60" stroke="#000" stroke-width="1.35"/>
<text x="517.40" y="680.70" font-size="11" text-anchor="middle" fill="#000" >0.4</text>
<line x1="556.22" y1="659.20" x2="556.22" y2="667.60" stroke="#000" stroke-width="1.35"/>
<text x="556.22" y="680.70" font-size="11" text-anchor="middle" fill="#000" >0.6</text>
<line x1="595.05" y1="659.20" x2="595.05" y2="667.60" stroke="#000" stroke-width="1.35"/>
<text x="595.05" y="680.70" font-size="11" text-anchor="middle" fill="#000" >0.8</text>
<line x1="424.70" y1="651.52" x2="433.40" y2="651.52" stroke="#000" stroke-width="1.35"/>
<text x="421.20" y="655.42" font-size="11" text-anchor="end" fill="#000" >0.00</text>
<line x1="424.70" y1="625.98" x2="433.40" y2="625.98" stroke="#000" stroke-width="1.35"/>
<text x="421.20" y="629.88" font-size="11" text-anchor="end" fill="#000" >0.05</text>
<line x1="424.70" y1="600.44" x2="433.40" y2="600.44" stroke="#000" stroke-width="1.35"/>
<text x="421.20" y="604.34" font-size="11" text-anchor="end" fill="#000" >0.10</text>
<line x1="424.70" y1="574.90" x2="433.40" y2="574.90" stroke="#000" stroke-width="1.35"/>
<text x="421.20" y="578.80" font-size="11" text-anchor="end" fill="#000" >0.15</text>
<line x1="424.70" y1="549.36" x2="433.40" y2="549.36" stroke="#000" stroke-width="1.35"/>
<text x="421.20" y="553.26" font-size="11" text-anchor="end" fill="#000" >0.20</text>
<line x1="424.70" y1="523.82" x2="433.40" y2="523.82" stroke="#000" stroke-width="1.35"/>
<text x="421.20" y="527.72" font-size="11" text-anchor="end" fill="#000" >0.25</text>
<line x1="424.70" y1="498.28" x2="433.40" y2="498.28" stroke="#000" stroke-width="1.35"/>
<text x="421.20" y="502.18" font-size="11" text-anchor="end" fill="#000" >0.30</text>
<text x="517.70" y="693.40" font-size="11" text-anchor="middle" fill="#000" >mitochondria cross-section occupancy</text>
<text transform="translate(388.70,575.20) rotate(-90)" font-size="11" text-anchor="middle" fill="#000">longitudinal coverage</text>
<rect x="434.90" y="723.20" width="10.71" height="13.77" fill="#8f0dff"/>
<rect x="444.61" y="723.20" width="10.71" height="13.77" fill="#840bff"/>
<rect x="454.31" y="723.20" width="10.71" height="13.77" fill="#7a09ff"/>
<rect x="464.02" y="723.20" width="10.71" height="13.77" fill="#6b07ff"/>
<rect x="473.72" y="723.20" width="10.71" height="13.77" fill="#4d04ff"/>
<rect x="483.43" y="723.20" width="10.71" height="13.77" fill="#3f03ff"/>
<rect x="493.14" y="723.20" width="10.71" height="13.77" fill="#2d02ff"/>
<rect x="502.84" y="723.20" width="10.71" height="13.77" fill="#2402ff"/>
<rect x="512.55" y="723.20" width="10.71" height="13.77" fill="#2204ff"/>
<rect x="522.25" y="723.20" width="10.71" height="13.77" fill="#2004ff"/>
<rect x="531.96" y="723.20" width="10.71" height="13.77" fill="#200eff"/>
<rect x="541.66" y="723.20" width="10.71" height="13.77" fill="#2f44ff"/>
<rect x="551.37" y="723.20" width="10.71" height="13.77" fill="#437fff"/>
<rect x="561.08" y="723.20" width="10.71" height="13.77" fill="#67d6ff"/>
<rect x="570.78" y="723.20" width="10.71" height="13.77" fill="#77fff6"/>
<rect x="580.49" y="723.20" width="10.71" height="13.77" fill="#52fb8a"/>
<rect x="590.19" y="723.20" width="9.71" height="13.77" fill="#3ffa0a"/>
<rect x="434.90" y="735.97" width="10.71" height="13.77" fill="#8f0dff"/>
<rect x="444.61" y="735.97" width="10.71" height="13.77" fill="#8f0dff"/>
<rect x="454.31" y="735.97" width="10.71" height="13.77" fill="#7a09ff"/>
<rect x="464.02" y="735.97" width="10.71" height="13.77" fill="#6b07ff"/>
<rect x="473.72" y="735.97" width="10.71" height="13.77" fill="#5c05ff"/>
<rect x="483.43" y="735.97" width="10.71" height="13.77" fill="#3f03ff"/>
<rect x="493.14" y="735.97" width="10.71" height="13.77" fill="#3402ff"/>
<rect x="502.84" y="735.97" width="10.71" height="13.77" fill="#2702ff"/>
<rect x="512.55" y="735.97" width="10.71" height="13.77" fill="#2203ff"/>
<rect x="522.25" y="735.97" width="10.71" height="13.77" fill="#2104ff"/>
<rect x="531.96" y="735.97" width="10.71" height="13.77" fill="#1f05ff"/>
<rect x="541.66" y="735.97" width="10.71" height="13.77" fill="#2729ff"/>
<rect x="551.37" y="735.97" width="10.71" height="13.77" fill="#3860ff"/>
<rect x="561.08" y="735.97" width="10.71" height="13.77" fill="#5bb9ff"/>
<rect x="570.78" y="735.97" width="10.71" height="13.77" fill="#77f9ff"/>
<rect x="580.49" y="735.97" width="10.71" height="13.77" fill="#62feb8"/>
<rect x="590.19" y="735.97" width="9.71" height="13.77" fill="#39fa13"/>
<rect x="434.90" y="748.74" width="10.71" height="13.77" fill="#8f0dff"/>
<rect x="444.61" y="748.74" width="10.71" height="13.77" fill="#8f0dff"/>
<rect x="454.31" y="748.74" width="10.71" height="13.77" fill="#840bff"/>
<rect x="464.02" y="748.74" width="10.71" height="13.77" fill="#7a09ff"/>
<rect x="473.72" y="748.74" width="10.71" height="13.77" fill="#5c05ff"/>
<rect x="483.43" y="748.74" width="10.71" height="13.77" fill="#4d04ff"/>
<rect x="493.14" y="748.74" width="10.71" height="13.77" fill="#3402ff"/>
<rect x="502.84" y="748.74" width="10.71" height="13.77" fill="#2d02ff"/>
<rect x="512.55" y="748.74" width="10.71" height="13.77" fill="#2402ff"/>
<rect x="522.25" y="748.74" width="10.71" height="13.77" fill="#2204ff"/>
<rect x="531.96" y="748.74" width="10.71" height="13.77" fill="#2005ff"/>
<rect x="541.66" y="748.74" width="10.71" height="13.77" fill="#200eff"/>
<rect x="551.37" y="748.74" width="10.71" height="13.77" fill="#2f44ff"/>
<rect x="561.08" y="748.74" width="10.71" height="13.77" fill="#498eff"/>
<rect x="570.78" y="748.74" width="10.71" height="13.77" fill="#71edff"/>
<rect x="580.49" y="748.74" width="10.71" height="13.77" fill="#71ffe3"/>
<rect x="590.19" y="748.74" width="9.71" height="13.77" fill="#40fa43"/>
<rect x="434.90" y="761.51" width="10.71" height="13.77" fill="#8f0dff"/>
<rect x="444.61" y="761.51" width="10.71" height="13.77" fill="#8f0dff"/>
<rect x="454.31" y="761.51" width="10.71" height="13.77" fill="#840bff"/>
<rect x="464.02" y="761.51" width="10.71" height="13.77" fill="#7a09ff"/>
<rect x="473.72" y="761.51" width="10.71" height="13.77" fill="#6b07ff"/>
<rect x="483.43" y="761.51" width="10.71" height="13.77" fill="#4d04ff"/>
<rect x="493.14" y="761.51" width="10.71" height="13.77" fill="#3f03ff"/>
<rect x="502.84" y="761.51" width="10.71" height="13.77" fill="#2d02ff"/>
<rect x="512.55" y="761.51" width="10.71" height="13.77" fill="#2702ff"/>
<rect x="522.25" y="761.51" width="10.71" height="13.77" fill="#2203ff"/>
<rect x="531.96" y="761.51" width="10.71" height="13.77" fill="#2104ff"/>
<rect x="541.66" y="761.51" width="10.71" height="13.77" fill="#1f05ff"/>
<rect x="551.37" y="761.51" width="10.71" height="13.77" fill="#2729ff"/>
<rect x="561.08" y="761.51" width="10.71" height="13.77" fill="#3e6fff"/>
<rect x="570.78" y="761.51" width="10.71" height="13.77" fill="#61c8ff"/>
<rect x="580.49" y="761.51" width="10.71" height="13.77" fill="#79fffd"/>
<rect x="590.19" y="761.51" width="9.71" height="13.77" fill="#52fb8a"/>
<rect x="434.90" y="774.28" width="10.71" height="13.77" fill="#8f0dff"/>
<rect x="444.61" y="774.28" width="10.71" height="13.77" fill="#8f0dff"/>
<rect x="454.31" y="774.28" width="10.71" height="13.77" fill="#840bff"/>
<rect x="464.02" y="774.28" width="10.71" height="13.77" fill="#7a09ff"/>
<rect x="473.72" y="774.28" width="10.71" height="13.77" fill="#6b07ff"/>
<rect x="483.43" y="774.28" width="10.71" height="13.77" fill="#5c05ff"/>
<rect x="493.14" y="774.28" width="10.71" height="13.77" fill="#4d04ff"/>
<rect x="502.84" y="774.28" width="10.71" height="13.77" fill="#3402ff"/>
<rect x="512.55" y="774.28" width="10.71" height="13.77" fill="#2d02ff"/>
<rect x="522.25" y="774.28" width="10.71" height="13.77" fill="#2402ff"/>
<rect x="531.96" y="774.28" width="10.71" height="13.77" fill="#2204ff"/>
<rect x="541.66" y="774.28" width="10.71" height="13.77" fill="#2004ff"/>
<rect x="551.37" y="774.28" width="10.71" height="13.77" fill="#200eff"/>
<rect x="561.08" y="774.28" width="10.71" height="13.77" fill="#2f44ff"/>
<rect x="570.78" y="774.28" width="10.71" height="13.77" fill="#498eff"/>
<rect x="580.49" y="774.28" width="10.71" height="13.77" fill="#73f1ff"/>
<rect x="590.19" y="774.28" width="9.71" height="13.77" fill="#6cffd6"/>
<rect x="434.90" y="787.05" width="10.71" height="13.77" fill="#8f0dff"/>
<rect x="444.61" y="787.05" width="10.71" height="13.77" fill="#8f0dff"/>
<rect x="454.31" y="787.05" width="10.71" height="13.77" fill="#840bff"/>
<rect x="464.02" y="787.05" width="10.71" height="13.77" fill="#7a09ff"/>
<rect x="473.72" y="787.05" width="10.71" height="13.77" fill="#7a09ff"/>
<rect x="483.43" y="787.05" width="10.71" height="13.77" fill="#6b07ff"/>
<rect x="493.14" y="787.05" width="10.71" height="13.77" fill="#4d04ff"/>
<rect x="502.84" y="787.05" width="10.71" height="13.77" fill="#3f03ff"/>
<rect x="512.55" y="787.05" width="10.71" height="13.77" fill="#3402ff"/>
<rect x="522.25" y="787.05" width="10.71" height="13.77" fill="#2702ff"/>
<rect x="531.96" y="787.05" width="10.71" height="13.77" fill="#2303ff"/>
<rect x="541.66" y="787.05" width="10.71" height="13.77" fill="#2204ff"/>
<rect x="551.37" y="787.05" width="10.71" height="13.77" fill="#2005ff"/>
<rect x="561.08" y="787.05" width="10.71" height="13.77" fill="#241bff"/>
<rect x="570.78" y="787.05" width="10.71" height="13.77" fill="#3860ff"/>
<rect x="580.49" y="787.05" width="10.71" height="13.77" fill="#61c8ff"/>
<rect x="590.19" y="787.05" width="9.71" height="13.77" fill="#77fff6"/>
<rect x="434.90" y="799.82" width="10.71" height="13.77" fill="#8f0dff"/>
<rect x="444.61" y="799.82" width="10.71" height="13.77" fill="#8f0dff"/>
<rect x="454.31" y="799.82" width="10.71" height="13.77" fill="#840bff"/>
<rect x="464.02" y="799.82" width="10.71" height="13.77" fill="#840bff"/>
<rect x="473.72" y="799.82" width="10.71" height="13.77" fill="#7a09ff"/>
<rect x="483.43" y="799.82" width="10.71" height="13.77" fill="#6b07ff"/>
<rect x="493.14" y="799.82" width="10.71" height="13.77" fill="#5c05ff"/>
<rect x="502.84" y="799.82" width="10.71" height="13.77" fill="#4d04ff"/>
<rect x="512.55" y="799.82" width="10.71" height="13.77" fill="#3f03ff"/>
<rect x="522.25" y="799.82" width="10.71" height="13.77" fill="#2d02ff"/>
<rect x="531.96" y="799.82" width="10.71" height="13.77" fill="#2702ff"/>
<rect x="541.66" y="799.82" width="10.71" height="13.77" fill="#2203ff"/>
<rect x="551.37" y="799.82" width="10.71" height="13.77" fill="#2104ff"/>
<rect x="561.08" y="799.82" width="10.71" height="13.77" fill="#1f05ff"/>
<rect x="570.78" y="799.82" width="10.71" height="13.77" fill="#2b36ff"/>
<rect x="580.49" y="799.82" width="10.71" height="13.77" fill="#437fff"/>
<rect x="590.19" y="799.82" width="9.71" height="13.77" fill="#73f1ff"/>
<rect x="434.90" y="812.58" width="10.71" height="13.77" fill="#8f0dff"/>
<rect x="444.61" y="812.58" width="10.71" height="13.77" fill="#8f0dff"/>
<rect x="454.31" y="812.58" width="10.71" height="13.77" fill="#8f0dff"/>
<rect x="464.02" y="812.58" width="10.71" height="13.77" fill="#840bff"/>
<rect x="473.72" y="812.58" width="10.71" height="13.77" fill="#7a09ff"/>
<rect x="483.43" y="812.58" width="10.71" height="13.77" fill="#7a09ff"/>
<rect x="493.14" y="812.58" width="10.71" height="13.77" fill="#6b07ff"/>
<rect x="502.84" y="812.58" width="10.71" height="13.77" fill="#5c05ff"/>
<rect x="512.55" y="812.58" width="10.71" height="13.77" fill="#4d04ff"/>
<rect x="522.25" y="812.58" width="10.71" height="13.77" fill="#3f03ff"/>
<rect x="531.96" y="812.58" width="10.71" height="13.77" fill="#2d02ff"/>
<rect x="541.66" y="812.58" width="10.71" height="13.77" fill="#2402ff"/>
<rect x="551.37" y="812.58" width="10.71" height="13.77" fill="#2203ff"/>
<rect x="561.08" y="812.58" width="10.71" height="13.77" fill="#2004ff"/>
<rect x="570.78" y="812.58" width="10.71" height="13.77" fill="#1e06ff"/>
<rect x="580.49" y="812.58" width="10.71" height="13.77" fill="#2f44ff"/>
<rect x="590.19" y="812.58" width="9.71" height="13.77" fill="#55abff"/>
<rect x="434.90" y="825.35" width="10.71" height="13.77" fill="#8f0dff"/>
<rect x="444.61" y="825.35" width="10.71" height="13.77" fill="#8f0dff"/>
<rect x="454.31" y="825.35" width="10.71" height="13.77" fill="#8f0dff"/>
<rect x="464.02" y="825.35" width="10.71" height="13.77" fill="#840bff"/>
<rect x="473.72" y="825.35" width="10.71" height="13.77" fill="#840bff"/>
<rect x="483.43" y="825.35" width="10.71" height="13.77" fill="#7a09ff"/>
<rect x="493.14" y="825.35" width="10.71" height="13.77" fill="#7a09ff"/>
<rect x="502.84" y="825.35" width="10.71" height="13.77" fill="#6b07ff"/>
<rect x="512.55" y="825.35" width="10.71" height="13.77" fill="#5c05ff"/>
<rect x="522.25" y="825.35" width="10.71" height="13.77" fill="#4d04ff"/>
<rect x="531.96" y="825.35" width="10.71" height="13.77" fill="#3f03ff"/>
<rect x="541.66" y="825.35" width="10.71" height="13.77" fill="#2d02ff"/>
<rect x="551.37" y="825.35" width="10.71" height="13.77" fill="#2702ff"/>
<rect x="561.08" y="825.35" width="10.71" height="13.77" fill="#2203ff"/>
<rect x="570.78" y="825.35" width="10.71" height="13.77" fill="#2004ff"/>
<rect x="580.49" y="825.35" width="10.71" height="13.77" fill="#200eff"/>
<rect x="590.19" y="825.35" width="9.71" height="13.77" fill="#3860ff"/>
<rect x="434.90" y="838.12" width="10.71" height="13.77" fill="#8f0dff"/>
<rect x="444.61" y="838.12" width="10.71" height="13.77" fill="#8f0dff"/>
<rect x="454.31" y="838.12" width="10.71" height="13.77" fill="#8f0dff"/>
<rect x="464.02" y="838.12" width="10.71" height="13.77" fill="#8f0dff"/>
<rect x="473.72" y="838.12" width="10.71" height="13.77" fill="#840bff"/>
<rect x="483.43" y="838.12" width="10.71" height="13.77" fill="#840bff"/>
<rect x="493.14" y="838.12" width="10.71" height="13.77" fill="#7a09ff"/>
<rect x="502.84" y="838.12" width="10.71" height="13.77" fill="#7a09ff"/>
<rect x="512.55" y="838.12" width="10.71" height="13.77" fill="#6b07ff"/>
<rect x="522.25" y="838.12" width="10.71" height="13.77" fill="#5c05ff"/>
<rect x="531.96" y="838.12" width="10.71" height="13.77" fill="#4d04ff"/>
<rect x="541.66" y="838.12" width="10.71" height="13.77" fill="#3f03ff"/>
<rect x="551.37" y="838.12" width="10.71" height="13.77" fill="#3402ff"/>
<rect x="561.08" y="838.12" width="10.71" height="13.77" fill="#2702ff"/>
<rect x="570.78" y="838.12" width="10.71" height="13.77" fill="#2303ff"/>
<rect x="580.49" y="838.12" width="10.71" height="13.77" fill="#2104ff"/>
<rect x="590.19" y="838.12" width="9.71" height="13.77" fill="#200eff"/>
<rect x="434.90" y="850.89" width="10.71" height="13.77" fill="#8f0dff"/>
<rect x="444.61" y="850.89" width="10.71" height="13.77" fill="#8f0dff"/>
<rect x="454.31" y="850.89" width="10.71" height="13.77" fill="#8f0dff"/>
<rect x="464.02" y="850.89" width="10.71" height="13.77" fill="#8f0dff"/>
<rect x="473.72" y="850.89" width="10.71" height="13.77" fill="#8f0dff"/>
<rect x="483.43" y="850.89" width="10.71" height="13.77" fill="#840bff"/>
<rect x="493.14" y="850.89" width="10.71" height="13.77" fill="#840bff"/>
<rect x="502.84" y="850.89" width="10.71" height="13.77" fill="#840bff"/>
<rect x="512.55" y="850.89" width="10.71" height="13.77" fill="#7a09ff"/>
<rect x="522.25" y="850.89" width="10.71" height="13.77" fill="#7a09ff"/>
<rect x="531.96" y="850.89" width="10.71" height="13.77" fill="#6b07ff"/>
<rect x="541.66" y="850.89" width="10.71" height="13.77" fill="#5c05ff"/>
<rect x="551.37" y="850.89" width="10.71" height="13.77" fill="#4d04ff"/>
<rect x="561.08" y="850.89" width="10.71" height="13.77" fill="#3f03ff"/>
<rect x="570.78" y="850.89" width="10.71" height="13.77" fill="#3402ff"/>
<rect x="580.49" y="850.89" width="10.71" height="13.77" fill="#2702ff"/>
<rect x="590.19" y="850.89" width="9.71" height="13.77" fill="#2204ff"/>
<rect x="434.90" y="863.66" width="10.71" height="13.77" fill="#8f0dff"/>
<rect x="444.61" y="863.66" width="10.71" height="13.77" fill="#8f0dff"/>
<rect x="454.31" y="863.66" width="10.71" height="13.77" fill="#8f0dff"/>
<rect x="464.02" y="863.66" width="10.71" height="13.77" fill="#8f0dff"/>
<rect x="473.72" y="863.66" width="10.71" height="13.77" fill="#8f0dff"/>
<rect x="483.43" y="863.66" width="10.71" height="13.77" fill="#8f0dff"/>
<rect x="493.14" y="863.66" width="10.71" height="13.77" fill="#8f0dff"/>
<rect x="502.84" y="863.66" width="10.71" height="13.77" fill="#8f0dff"/>
<rect x="512.55" y="863.66" width="10.71" height="13.77" fill="#840bff"/>
<rect x="522.25" y="863.66" width="10.71" height="13.77" fill="#840bff"/>
<rect x="531.96" y="863.66" width="10.71" height="13.77" fill="#840bff"/>
<rect x="541.66" y="863.66" width="10.71" height="13.77" fill="#7a09ff"/>
<rect x="551.37" y="863.66" width="10.71" height="13.77" fill="#7a09ff"/>
<rect x="561.08" y="863.66" width="10.71" height="13.77" fill="#6b07ff"/>
<rect x="570.78" y="863.66" width="10.71" height="13.77" fill="#6b07ff"/>
<rect x="580.49" y="863.66" width="10.71" height="13.77" fill="#4d04ff"/>
<rect x="590.19" y="863.66" width="9.71" height="13.77" fill="#3f03ff"/>
<rect x="434.90" y="876.43" width="10.71" height="12.77" fill="#8f0dff"/>
<rect x="444.61" y="876.43" width="10.71" height="12.77" fill="#8f0dff"/>
<rect x="454.31" y="876.43" width="10.71" height="12.77" fill="#8f0dff"/>
<rect x="464.02" y="876.43" width="10.71" height="12.77" fill="#8f0dff"/>
<rect x="473.72" y="876.43" width="10.71" height="12.77" fill="#8f0dff"/>
<rect x="483.43" y="876.43" width="10.71" height="12.77" fill="#8f0dff"/>
<rect x="493.14" y="876.43" width="10.71" height="12.77" fill="#8f0dff"/>
<rect x="502.84" y="876.43" width="10.71" height="12.77" fill="#8f0dff"/>
<rect x="512.55" y="876.43" width="10.71" height="12.77" fill="#8f0dff"/>
<rect x="522.25" y="876.43" width="10.71" height="12.77" fill="#8f0dff"/>
<rect x="531.96" y="876.43" width="10.71" height="12.77" fill="#8f0dff"/>
<rect x="541.66" y="876.43" width="10.71" height="12.77" fill="#8f0dff"/>
<rect x="551.37" y="876.43" width="10.71" height="12.77" fill="#8f0dff"/>
<rect x="561.08" y="876.43" width="10.71" height="12.77" fill="#8f0dff"/>
<rect x="570.78" y="876.43" width="10.71" height="12.77" fill="#8f0dff"/>
<rect x="580.49" y="876.43" width="10.71" height="12.77" fill="#8f0dff"/>
<rect x="590.19" y="876.43" width="9.71" height="12.77" fill="#8f0dff"/>
<path d="M433.40,723.20 V890.55 H599.40" fill="none" stroke="#000" stroke-width="1.35" stroke-linecap="square"/>
<line x1="439.75" y1="890.55" x2="439.75" y2="898.95" stroke="#000" stroke-width="1.35"/>
<text x="439.75" y="912.30" font-size="11" text-anchor="middle" fill="#000" >0.0</text>
<line x1="478.58" y1="890.55" x2="478.58" y2="898.95" stroke="#000" stroke-width="1.35"/>
<text x="478.58" y="912.30" font-size="11" text-anchor="middle" fill="#000" >0.2</text>
<line x1="517.40" y1="890.55" x2="517.40" y2="898.95" stroke="#000" stroke-width="1.35"/>
<text x="517.40" y="912.30" font-size="11" text-anchor="middle" fill="#000" >0.4</text>
<line x1="556.22" y1="890.55" x2="556.22" y2="898.95" stroke="#000" stroke-width="1.35"/>
<text x="556.22" y="912.30" font-size="11" text-anchor="middle" fill="#000" >0.6</text>
<line x1="595.05" y1="890.55" x2="595.05" y2="898.95" stroke="#000" stroke-width="1.35"/>
<text x="595.05" y="912.30" font-size="11" text-anchor="middle" fill="#000" >0.8</text>
<line x1="424.70" y1="882.82" x2="433.40" y2="882.82" stroke="#000" stroke-width="1.35"/>
<text x="421.20" y="886.72" font-size="11" text-anchor="end" fill="#000" >0.00</text>
<line x1="424.70" y1="857.28" x2="433.40" y2="857.28" stroke="#000" stroke-width="1.35"/>
<text x="421.20" y="861.18" font-size="11" text-anchor="end" fill="#000" >0.05</text>
<line x1="424.70" y1="831.74" x2="433.40" y2="831.74" stroke="#000" stroke-width="1.35"/>
<text x="421.20" y="835.64" font-size="11" text-anchor="end" fill="#000" >0.10</text>
<line x1="424.70" y1="806.20" x2="433.40" y2="806.20" stroke="#000" stroke-width="1.35"/>
<text x="421.20" y="810.10" font-size="11" text-anchor="end" fill="#000" >0.15</text>
<line x1="424.70" y1="780.66" x2="433.40" y2="780.66" stroke="#000" stroke-width="1.35"/>
<text x="421.20" y="784.56" font-size="11" text-anchor="end" fill="#000" >0.20</text>
<line x1="424.70" y1="755.12" x2="433.40" y2="755.12" stroke="#000" stroke-width="1.35"/>
<text x="421.20" y="759.02" font-size="11" text-anchor="end" fill="#000" >0.25</text>
<line x1="424.70" y1="729.58" x2="433.40" y2="729.58" stroke="#000" stroke-width="1.35"/>
<text x="421.20" y="733.48" font-size="11" text-anchor="end" fill="#000" >0.30</text>
<text x="517.70" y="924.40" font-size="11" text-anchor="middle" fill="#000" >mitochondria cross-section occupancy</text>
<text transform="translate(388.70,806.30) rotate(-90)" font-size="11" text-anchor="middle" fill="#000">longitudinal coverage</text>
<defs>
</defs>
<linearGradient id="cbD" x1="0" y1="0" x2="0" y2="1">
<stop offset="0.0000" stop-color="#ff1d0d"/>
<stop offset="0.0900" stop-color="#fa571d"/>
<stop offset="0.1570" stop-color="#f19927"/>
<stop offset="0.2130" stop-color="#f4eb37"/>
<stop offset="0.2420" stop-color="#f0fc3a"/>
<stop offset="0.3150" stop-color="#b4ff25"/>
<stop offset="0.4270" stop-color="#55fb0d"/>
<stop offset="0.5170" stop-color="#3bfa0f"/>
<stop offset="0.6070" stop-color="#48fa6c"/>
<stop offset="0.6740" stop-color="#6cffd6"/>
<stop offset="0.7530" stop-color="#7affff"/>
<stop offset="0.8090" stop-color="#69dbff"/>
<stop offset="0.8540" stop-color="#4d99ff"/>
<stop offset="0.9210" stop-color="#3250ff"/>
<stop offset="0.9890" stop-color="#2303ff"/>
<stop offset="1.0000" stop-color="#2302ff"/>
</linearGradient>
<rect x="271.6" y="291.0" width="18.4" height="136.2" fill="url(#cbD)"/>
<linearGradient id="cbE" x1="0" y1="1" x2="0" y2="0">
<stop offset="0.0000" stop-color="#8f0dff"/>
<stop offset="0.0250" stop-color="#6d08ff"/>
<stop offset="0.0500" stop-color="#4303ff"/>
<stop offset="0.0750" stop-color="#2902ff"/>
<stop offset="0.1000" stop-color="#2303ff"/>
<stop offset="0.1250" stop-color="#2104ff"/>
<stop offset="0.1500" stop-color="#1f05ff"/>
<stop offset="0.1750" stop-color="#241dff"/>
<stop offset="0.2000" stop-color="#2f44ff"/>
<stop offset="0.2250" stop-color="#3d6eff"/>
<stop offset="0.2500" stop-color="#4d99ff"/>
<stop offset="0.2750" stop-color="#5fc2ff"/>
<stop offset="0.3000" stop-color="#70ebff"/>
<stop offset="0.3250" stop-color="#76f6ff"/>
<stop offset="0.3500" stop-color="#79fffb"/>
<stop offset="0.3750" stop-color="#73ffe8"/>
<stop offset="0.4000" stop-color="#6cffd6"/>
<stop offset="0.4250" stop-color="#5dfdab"/>
<stop offset="0.4500" stop-color="#4efb7e"/>
<stop offset="0.4750" stop-color="#43fa55"/>
<stop offset="0.5000" stop-color="#3cfa2f"/>
<stop offset="0.5250" stop-color="#38fa14"/>
<stop offset="0.5500" stop-color="#3bfa0f"/>
<stop offset="0.5750" stop-color="#40fa0a"/>
<stop offset="0.6000" stop-color="#55fb0d"/>
<stop offset="0.6250" stop-color="#6afb10"/>
<stop offset="0.6500" stop-color="#7ffc14"/>
<stop offset="0.6750" stop-color="#95fd1a"/>
<stop offset="0.7000" stop-color="#abfe22"/>
<stop offset="0.7250" stop-color="#c1ff29"/>
<stop offset="0.7500" stop-color="#d7ff32"/>
<stop offset="0.7750" stop-color="#ecff3a"/>
<stop offset="0.8000" stop-color="#f3fa3a"/>
<stop offset="0.8250" stop-color="#f5e035"/>
<stop offset="0.8500" stop-color="#f2bb2e"/>
<stop offset="0.8750" stop-color="#f19927"/>
<stop offset="0.9000" stop-color="#f57a23"/>
<stop offset="0.9250" stop-color="#fa5b1e"/>
<stop offset="0.9500" stop-color="#fc4618"/>
<stop offset="0.9750" stop-color="#fd3213"/>
<stop offset="1.0000" stop-color="#ff1d0d"/>
</linearGradient>
<rect x="626.40" y="290.00" width="18.60" height="138.00" fill="url(#cbE)"/>
<line x1="290.0" y1="423.86" x2="294.50" y2="423.86" stroke="#000" stroke-width="1.3"/>
<line x1="290.0" y1="415.62" x2="294.50" y2="415.62" stroke="#000" stroke-width="1.3"/>
<line x1="290.0" y1="407.38" x2="294.50" y2="407.38" stroke="#000" stroke-width="1.3"/>
<line x1="290.0" y1="399.14" x2="294.50" y2="399.14" stroke="#000" stroke-width="1.3"/>
<line x1="290.0" y1="390.90" x2="298.00" y2="390.90" stroke="#000" stroke-width="1.3"/>
<text x="301.50" y="394.80" font-size="11" text-anchor="start" fill="#000" >0.3</text>
<line x1="290.0" y1="382.66" x2="294.50" y2="382.66" stroke="#000" stroke-width="1.3"/>
<line x1="290.0" y1="374.42" x2="294.50" y2="374.42" stroke="#000" stroke-width="1.3"/>
<line x1="290.0" y1="366.18" x2="294.50" y2="366.18" stroke="#000" stroke-width="1.3"/>
<line x1="290.0" y1="357.94" x2="294.50" y2="357.94" stroke="#000" stroke-width="1.3"/>
<line x1="290.0" y1="349.70" x2="298.00" y2="349.70" stroke="#000" stroke-width="1.3"/>
<text x="301.50" y="353.60" font-size="11" text-anchor="start" fill="#000" >0.4</text>
<line x1="290.0" y1="341.46" x2="294.50" y2="341.46" stroke="#000" stroke-width="1.3"/>
<line x1="290.0" y1="333.22" x2="294.50" y2="333.22" stroke="#000" stroke-width="1.3"/>
<line x1="290.0" y1="324.98" x2="294.50" y2="324.98" stroke="#000" stroke-width="1.3"/>
<line x1="290.0" y1="316.74" x2="294.50" y2="316.74" stroke="#000" stroke-width="1.3"/>
<line x1="290.0" y1="308.50" x2="298.00" y2="308.50" stroke="#000" stroke-width="1.3"/>
<text x="301.50" y="312.40" font-size="11" text-anchor="start" fill="#000" >0.5</text>
<line x1="290.0" y1="300.26" x2="294.50" y2="300.26" stroke="#000" stroke-width="1.3"/>
<line x1="290.0" y1="292.02" x2="294.50" y2="292.02" stroke="#000" stroke-width="1.3"/>
<text transform="translate(328.00,359.50) rotate(90)" font-size="11" text-anchor="middle" fill="#000">conduction velocity (m/s)</text>
<line x1="645.0" y1="427.20" x2="653.00" y2="427.20" stroke="#000" stroke-width="1.3"/>
<text x="656.50" y="431.10" font-size="11" text-anchor="start" fill="#000" >0</text>
<line x1="645.0" y1="421.07" x2="649.50" y2="421.07" stroke="#000" stroke-width="1.3"/>
<line x1="645.0" y1="414.94" x2="649.50" y2="414.94" stroke="#000" stroke-width="1.3"/>
<line x1="645.0" y1="408.81" x2="649.50" y2="408.81" stroke="#000" stroke-width="1.3"/>
<line x1="645.0" y1="402.68" x2="649.50" y2="402.68" stroke="#000" stroke-width="1.3"/>
<line x1="645.0" y1="396.55" x2="653.00" y2="396.55" stroke="#000" stroke-width="1.3"/>
<text x="656.50" y="400.45" font-size="11" text-anchor="start" fill="#000" >1</text>
<line x1="645.0" y1="390.42" x2="649.50" y2="390.42" stroke="#000" stroke-width="1.3"/>
<line x1="645.0" y1="384.29" x2="649.50" y2="384.29" stroke="#000" stroke-width="1.3"/>
<line x1="645.0" y1="378.16" x2="649.50" y2="378.16" stroke="#000" stroke-width="1.3"/>
<line x1="645.0" y1="372.03" x2="649.50" y2="372.03" stroke="#000" stroke-width="1.3"/>
<line x1="645.0" y1="365.90" x2="653.00" y2="365.90" stroke="#000" stroke-width="1.3"/>
<text x="656.50" y="369.80" font-size="11" text-anchor="start" fill="#000" >2</text>
<line x1="645.0" y1="359.77" x2="649.50" y2="359.77" stroke="#000" stroke-width="1.3"/>
<line x1="645.0" y1="353.64" x2="649.50" y2="353.64" stroke="#000" stroke-width="1.3"/>
<line x1="645.0" y1="347.51" x2="649.50" y2="347.51" stroke="#000" stroke-width="1.3"/>
<line x1="645.0" y1="341.38" x2="649.50" y2="341.38" stroke="#000" stroke-width="1.3"/>
<line x1="645.0" y1="335.25" x2="653.00" y2="335.25" stroke="#000" stroke-width="1.3"/>
<text x="656.50" y="339.15" font-size="11" text-anchor="start" fill="#000" >3</text>
<line x1="645.0" y1="329.12" x2="649.50" y2="329.12" stroke="#000" stroke-width="1.3"/>
<line x1="645.0" y1="322.99" x2="649.50" y2="322.99" stroke="#000" stroke-width="1.3"/>
<line x1="645.0" y1="316.86" x2="649.50" y2="316.86" stroke="#000" stroke-width="1.3"/>
<line x1="645.0" y1="310.73" x2="649.50" y2="310.73" stroke="#000" stroke-width="1.3"/>
<line x1="645.0" y1="304.60" x2="653.00" y2="304.60" stroke="#000" stroke-width="1.3"/>
<text x="656.50" y="308.50" font-size="11" text-anchor="start" fill="#000" >4</text>
<line x1="645.0" y1="298.47" x2="649.50" y2="298.47" stroke="#000" stroke-width="1.3"/>
<line x1="645.0" y1="292.34" x2="649.50" y2="292.34" stroke="#000" stroke-width="1.3"/>
<text transform="translate(671.70,359.00) rotate(90)" font-size="11" text-anchor="middle" fill="#000">additional delay (ms)</text>
<path d="M98.00,130.00 C97.25,130.47 94.90,132.02 93.50,132.80 C92.10,133.58 89.63,135.18 89.60,134.70 C89.57,134.22 92.30,131.47 93.30,129.90 C94.30,128.33 95.60,126.83 95.60,125.30 C95.60,123.77 94.95,121.72 93.30,120.70 C91.65,119.68 88.00,118.82 85.70,119.20 C83.40,119.58 81.17,121.73 79.50,123.00 C77.83,124.27 76.97,125.90 75.70,126.80 C74.43,127.70 73.43,129.03 71.90,128.40 C70.37,127.77 67.92,124.67 66.50,123.00 C65.08,121.33 64.17,120.70 63.40,118.40 C62.63,116.10 61.80,111.60 61.90,109.20 C62.00,106.80 62.85,105.38 64.00,104.00 C65.15,102.62 66.22,100.78 68.80,100.90 C71.38,101.02 75.67,103.43 79.50,104.70 C83.33,105.97 89.12,108.50 91.80,108.50 C94.48,108.50 95.35,106.10 95.60,104.70 C95.85,103.30 96.23,101.88 93.30,100.10 C90.37,98.32 81.18,96.17 78.00,94.00 C74.82,91.83 74.20,89.15 74.20,87.10 C74.20,85.05 75.32,81.83 78.00,81.70 C80.68,81.57 86.47,84.38 90.30,86.30 C94.13,88.22 99.98,94.47 101.00,93.20 C102.02,91.93 96.78,83.42 96.40,78.70 C96.02,73.98 97.68,67.58 98.70,64.90 C99.72,62.22 101.10,62.10 102.50,62.60 C103.90,63.10 105.95,64.72 107.10,67.90 C108.25,71.08 108.25,78.37 109.40,81.70 C110.55,85.03 112.33,87.63 114.00,87.90 C115.67,88.17 118.00,86.63 119.40,83.30 C120.80,79.97 122.02,72.00 122.40,67.90 C122.78,63.80 121.05,61.00 121.70,58.70 C122.35,56.40 124.65,54.10 126.30,54.10 C127.95,54.10 131.22,56.40 131.60,58.70 C131.98,61.00 129.87,64.57 128.60,67.90 C127.33,71.23 125.03,74.60 124.00,78.70 C122.97,82.80 121.72,88.35 122.40,92.50 C123.08,96.65 126.05,102.73 128.10,103.60 C130.15,104.47 133.12,100.50 134.70,97.70 C136.28,94.90 136.57,89.42 137.60,86.80 C138.63,84.18 139.68,81.88 140.90,82.00 C142.12,82.12 144.02,85.25 144.90,87.50 C145.78,89.75 146.43,92.95 146.20,95.50 C145.97,98.05 145.05,100.97 143.50,102.80 C141.95,104.63 138.78,105.45 136.90,106.50 C135.02,107.55 133.32,107.77 132.20,109.10 C131.08,110.43 130.20,112.62 130.20,114.50 C130.20,116.38 131.38,119.92 132.20,120.40 C133.02,120.88 133.95,118.98 135.10,117.40 C136.25,115.82 137.47,112.05 139.10,110.90 C140.73,109.75 143.08,109.90 144.90,110.50 C146.72,111.10 149.15,113.10 150.00,114.50 C150.85,115.90 150.97,117.68 150.00,118.90 C149.03,120.12 146.27,120.58 144.20,121.80 C142.13,123.02 139.07,124.83 137.60,126.20 C136.13,127.57 135.42,128.93 135.40,130.00 C135.38,131.07 136.57,132.52 137.50,132.60 C138.43,132.68 139.50,131.68 141.00,130.50 C142.50,129.32 145.58,126.33 146.50,125.50" fill="none" stroke="#757575" stroke-width="1.9" stroke-linecap="round" stroke-linejoin="round"/>
<path d="M146.00,126.50 C146.38,127.97 148.10,132.68 148.30,135.30 C148.50,137.92 147.38,141.05 147.20,142.20" fill="none" stroke="#757575" stroke-width="1.9" stroke-linecap="round" stroke-linejoin="round"/>
<path d="M89.70,134.90 C88.38,135.00 84.10,134.73 81.80,135.50 C79.50,136.27 76.77,137.53 75.90,139.50 C75.03,141.47 75.40,145.02 76.60,147.30 C77.80,149.58 80.70,152.10 83.10,153.20 C85.50,154.30 88.80,154.43 91.00,153.90 C93.20,153.37 95.10,151.75 96.30,150.00 C97.50,148.25 98.20,144.93 98.20,143.40 C98.20,141.87 97.10,140.58 96.30,140.80 C95.50,141.02 94.17,142.95 93.40,144.70 C92.63,146.45 92.53,149.43 91.70,151.30 C90.87,153.17 89.43,154.48 88.40,155.90 C87.37,157.32 85.72,158.38 85.50,159.80 C85.28,161.22 85.73,162.87 87.10,164.40 C88.47,165.93 91.08,168.23 93.70,169.00 C96.32,169.77 99.97,169.43 102.80,169.00 C105.63,168.57 108.72,167.82 110.70,166.40 C112.68,164.98 113.88,163.02 114.70,160.50 C115.52,157.98 115.65,153.38 115.60,151.30 C115.55,149.22 114.60,148.55 114.40,148.00" fill="none" stroke="#757575" stroke-width="1.9" stroke-linecap="round" stroke-linejoin="round"/>
<path d="M114.40,148.00 C114.30,148.98 113.87,151.82 113.80,153.90 C113.73,155.98 114.52,158.32 114.00,160.50 C113.48,162.68 111.25,165.92 110.70,167.00" fill="none" stroke="#757575" stroke-width="1.9" stroke-linecap="round" stroke-linejoin="round"/>
<path d="M114.90,160.30 C115.58,159.58 117.50,157.28 119.00,156.00 C120.50,154.72 122.22,152.73 123.90,152.60 C125.58,152.47 127.13,153.67 129.10,155.20 C131.07,156.73 133.83,160.37 135.70,161.80 C137.57,163.23 139.32,164.35 140.30,163.80 C141.28,163.25 142.07,160.72 141.60,158.50 C141.13,156.28 138.70,152.58 137.50,150.50 C136.30,148.42 133.83,145.98 134.40,146.00 C134.97,146.02 138.50,148.95 140.90,150.60 C143.30,152.25 146.93,154.92 148.80,155.90 C150.67,156.88 151.55,156.40 152.10,156.50" fill="none" stroke="#757575" stroke-width="1.9" stroke-linecap="round" stroke-linejoin="round"/>
<path d="M143.10,61.40 C145.13,60.82 150.70,59.15 155.30,57.90 C159.90,56.65 165.58,54.87 170.70,53.90 C175.82,52.93 180.90,52.42 186.00,52.10 C191.10,51.78 197.13,51.82 201.30,52.00 C205.47,52.18 207.72,52.60 211.00,53.20 C214.28,53.80 216.98,54.08 221.00,55.60 C225.02,57.12 230.12,58.98 235.10,62.30 C240.08,65.62 245.65,70.02 250.90,75.50 C256.15,80.98 262.23,88.42 266.60,95.20 C270.97,101.98 274.03,109.12 277.10,116.20 C280.17,123.28 283.68,134.12 285.00,137.70 L285.00,137.70 C282.82,138.28 278.03,139.93 271.90,141.20 C265.77,142.47 254.85,144.13 248.20,145.30 C241.55,146.47 236.37,147.60 232.00,148.20 C227.63,148.80 225.33,148.78 222.00,148.90 C218.67,149.02 214.47,149.03 212.00,148.90 C209.53,148.77 208.63,148.48 207.20,148.10 C205.77,147.72 204.38,146.65 203.40,146.60 C202.42,146.55 201.53,147.10 201.30,147.80 C201.07,148.50 201.60,149.43 202.00,150.80 C202.40,152.17 203.07,154.07 203.70,156.00 C204.33,157.93 205.37,160.73 205.80,162.40 C206.23,164.07 206.55,164.82 206.30,166.00 C206.05,167.18 205.50,168.33 204.30,169.50 C203.10,170.67 201.53,172.03 199.10,173.00 C196.67,173.97 192.82,174.92 189.70,175.30 C186.58,175.68 182.93,175.68 180.40,175.30 C177.87,174.92 176.17,173.48 174.50,173.00 C172.83,172.52 171.57,172.22 170.40,172.40 C169.23,172.58 167.98,173.82 167.50,174.10 L144.6,200.9 L123.6,191.0 L81.5,188.3 L65.8,189.6 L65.8,182.3 L107.6,173.3 L140.8,169.8 L150.6,163.0 L151.9,157.5 L151.9,134.0 L153.6,130.7 L157.6,126.7 L169.4,122.8 L181.2,118.8 L172.0,113.6 L156.3,108.8 L152.3,105.7 L148.4,95.2 L145.8,79.4 L143.1,61.4 Z" fill="#fff" stroke="#000" stroke-width="2.5" stroke-linejoin="round"/>
<path d="M169.40,103.00 C171.58,104.23 178.57,107.32 182.50,110.40 C186.43,113.48 190.28,117.47 193.00,121.50 C195.72,125.53 197.97,130.52 198.80,134.60 C199.63,138.68 199.58,142.83 198.00,146.00 C196.42,149.17 194.27,150.57 189.30,153.60 C184.33,156.63 176.50,160.77 168.20,164.20 C159.90,167.63 144.28,172.53 139.50,174.20" fill="none" stroke="#000" stroke-width="0.9"/>
<path d="M136.3,175.3 L142.6,171.2 L141.3,173.6 L143.6,175.2 Z" fill="#000"/>
<path d="M191.5,151.2 L169,150.4" fill="none" stroke="#000" stroke-width="0.9"/>
<path d="M165.3,150.2 L171.2,148.0 L170.2,150.4 L171.0,152.9 Z" fill="#000"/>
<path d="M137,180.4 L172.5,183.0" fill="none" stroke="#000" stroke-width="0.9"/>
<path d="M176.2,183.3 L170.3,185.3 L171.4,182.9 L170.7,180.4 Z" fill="#000"/>
<path d="M222.5,191.8 L245.5,184.9" fill="none" stroke="#000" stroke-width="0.9"/>
<path d="M249.2,183.8 L244.2,187.8 L244.5,185.2 L242.8,183.1 Z" fill="#000"/>
<circle cx="160.6" cy="149.5" r="4.8" fill="#b0b0b0" stroke="#000" stroke-width="1.9"/>
<ellipse cx="122.8" cy="179.0" rx="14.0" ry="3.6" fill="#b4b4b4" stroke="#000" stroke-width="2.1"/>
<line x1="163.60" y1="70.5" x2="158.00" y2="93.5" stroke="#111" stroke-width="0.6"/>
<line x1="165.50" y1="70.5" x2="159.90" y2="93.5" stroke="#111" stroke-width="0.6"/>
<line x1="167.40" y1="70.5" x2="161.80" y2="93.5" stroke="#111" stroke-width="0.6"/>
<line x1="169.30" y1="70.5" x2="163.70" y2="93.5" stroke="#111" stroke-width="0.6"/>
<line x1="171.20" y1="70.5" x2="165.60" y2="93.5" stroke="#111" stroke-width="0.6"/>
<ellipse cx="168.6" cy="66.5" rx="8.4" ry="4.9" fill="#808080" stroke="#ee3a30" stroke-width="1.1"/>
<ellipse cx="162.3" cy="98.5" rx="7.9" ry="5.4" fill="#808080" stroke="#ee3a30" stroke-width="1.1"/>
<path d="M156.3,52.6 L182.5,56.3 L170.7,113.0 L145.8,106.2 Z" fill="none" stroke="#f5241a" stroke-width="2.6" stroke-linejoin="miter"/>
<path d="M183.4,54.6 L336.0,27.4 M171.5,113.5 L336.0,208.3" fill="none" stroke="#ee2a1e" stroke-width="1.1" stroke-dasharray="5.2,3.6"/>
<rect x="154.90" y="127.00" width="42.00" height="14.90" fill="#d6d6d6"/>
<text x="175.90" y="137.60" font-size="8.5" text-anchor="middle" fill="#000" >Midbrain</text>
<rect x="208.90" y="127.40" width="43.20" height="14.20" fill="#d6d6d6"/>
<text x="230.50" y="137.60" font-size="8.5" text-anchor="middle" fill="#000" >Forebrain</text>
<rect x="81.00" y="185.20" width="42.00" height="15.20" fill="#d6d6d6"/>
<text x="102.00" y="195.60" font-size="8.5" text-anchor="middle" fill="#000" >Brainstem</text>
<rect x="176.60" y="179.90" width="45.50" height="18.90" fill="#d6d6d6"/>
<text x="199.35" y="188.50" font-size="8.5" text-anchor="middle" fill="#000" >Syrinx</text>
<text x="199.35" y="197.20" font-size="8.5" text-anchor="middle" fill="#000" >Muscles</text>
<text x="149.50" y="51.00" font-size="11.5" text-anchor="start" fill="#000" font-weight="bold" >HVC</text>
<text x="175.00" y="105.20" font-size="11.5" text-anchor="start" fill="#000" font-weight="bold" >RA</text>
<text x="129.40" y="193.00" font-size="11.5" text-anchor="start" fill="#000" font-weight="bold" >nXII</text>
<text x="258.00" y="166.80" font-size="8.7" text-anchor="middle" fill="#222" >Song</text>
<path d="M265.30,46.4 H283.30 M274.3,37.90 V54.40" stroke="#000" stroke-width="0.7" fill="none"/>
<path d="M262.40,46.4 l3.8,-1.9 v3.8 Z M286.10,46.4 l-3.8,-1.9 v3.8 Z M274.3,35.30 l-1.9,3.8 h3.8 Z M274.3,57.00 l-1.9,-3.8 h3.8 Z" fill="#000"/>
<text x="274.60" y="30.70" font-size="6.8" text-anchor="middle" fill="#2a2a2a" >D</text>
<text x="274.50" y="66.50" font-size="6.8" text-anchor="middle" fill="#2a2a2a" >V</text>
<text x="255.90" y="48.40" font-size="6.8" text-anchor="middle" fill="#2a2a2a" >P</text>
<text x="291.80" y="48.40" font-size="6.8" text-anchor="middle" fill="#2a2a2a" >A</text>
<g transform="translate(249.90,173.20)" fill="#000" stroke="#000"><path d="M4.0,0.1 L11.9,-0.2 L11.8,1.1 L3.9,1.4 Z M3.7,2.5 L11.6,2.2 L11.5,2.9 L3.6,3.2 Z" stroke="none"/><path d="M4.25,0.6 L3.2,11.6 M11.55,0.3 L10.75,9.4" stroke-width="0.9" fill="none"/><ellipse cx="2.2" cy="12.0" rx="2.4" ry="1.55" transform="rotate(-22 2.2 12.0)" stroke="none"/><ellipse cx="9.75" cy="9.8" rx="2.3" ry="1.5" transform="rotate(-22 9.75 9.8)" stroke="none"/></g>
<g transform="translate(265.00,173.20)" fill="#000" stroke="#000"><path d="M4.0,0.1 L11.9,-0.2 L11.8,1.1 L3.9,1.4 Z M3.7,2.5 L11.6,2.2 L11.5,2.9 L3.6,3.2 Z" stroke="none"/><path d="M4.25,0.6 L3.2,11.6 M11.55,0.3 L10.75,9.4" stroke-width="0.9" fill="none"/><ellipse cx="2.2" cy="12.0" rx="2.4" ry="1.55" transform="rotate(-22 2.2 12.0)" stroke="none"/><ellipse cx="9.75" cy="9.8" rx="2.3" ry="1.5" transform="rotate(-22 9.75 9.8)" stroke="none"/></g>
<g transform="translate(279.70,173.20)" fill="#000" stroke="#000"><path d="M4.0,0.1 L11.9,-0.2 L11.8,1.1 L3.9,1.4 Z M3.7,2.5 L11.6,2.2 L11.5,2.9 L3.6,3.2 Z" stroke="none"/><path d="M4.25,0.6 L3.2,11.6 M11.55,0.3 L10.75,9.4" stroke-width="0.9" fill="none"/><ellipse cx="2.2" cy="12.0" rx="2.4" ry="1.55" transform="rotate(-22 2.2 12.0)" stroke="none"/><ellipse cx="9.75" cy="9.8" rx="2.3" ry="1.5" transform="rotate(-22 9.75 9.8)" stroke="none"/></g>
<defs>
<clipPath id="clipB"><rect x="337.65" y="28.95" width="138.30" height="180.10"/></clipPath>
<filter id="mic" filterUnits="userSpaceOnUse" x="330" y="20" width="155" height="200" color-interpolation-filters="sRGB">
<feGaussianBlur in="SourceGraphic" stdDeviation="2.6" result="dens"/>
<feTurbulence type="fractalNoise" baseFrequency="0.62" numOctaves="3" seed="7" result="tn"/>
<feColorMatrix in="tn" type="matrix" values="1 0 0 0 0  1 0 0 0 0  1 0 0 0 0  0 0 0 0 1" result="n1"/>
<feComposite in="dens" in2="n1" operator="arithmetic" k1="0" k2="1.0" k3="1.0" k4="-0.5" result="sum"/>
<feComponentTransfer in="sum"><feFuncR type="linear" slope="2.2" intercept="-0.60"/><feFuncG type="linear" slope="2.2" intercept="-0.60"/><feFuncB type="linear" slope="2.2" intercept="-0.60"/></feComponentTransfer>
<feGaussianBlur stdDeviation="0.55"/>
</filter>
<filter id="blur1" x="-20%" y="-20%" width="140%" height="140%"><feGaussianBlur stdDeviation="0.5"/></filter>
<radialGradient id="gHVC" gradientUnits="userSpaceOnUse" cx="446" cy="54" r="34"><stop offset="0" stop-color="#b0b0b0"/><stop offset="0.5" stop-color="#9c9c9c"/><stop offset="0.8" stop-color="#787878"/><stop offset="1" stop-color="#5c5c5c"/></radialGradient>
<radialGradient id="gRA"><stop offset="0" stop-color="#b0b0b0"/><stop offset="0.45" stop-color="#9a9a9a"/><stop offset="0.8" stop-color="#666"/><stop offset="1" stop-color="#2c2c2c"/></radialGradient>
</defs>
<rect x="336.30" y="27.60" width="141.00" height="182.80" fill="#000"/>
<g clip-path="url(#clipB)">
<g filter="url(#mic)">
<rect x="330" y="20" width="155" height="200" fill="#000"/>
<path d="M413,52 C395,60 372,78 358,110 C352,130 354,160 364,180 C374,196 392,206 415,212 L480,212 L480,40 L455,40 C440,40 425,46 413,52 Z" fill="#1c1c1c"/>
<path d="M420,60 C405,75 390,100 386,125 C384,150 390,170 400,185 L440,200 L440,70 Z" fill="#2c2c2c"/>
<path d="M440,74 C446,100 448,140 446,170 C450,190 440,204 430,212 L480,212 L480,60 Z" fill="#4e4e4e"/>
<path d="M440,188 C452,192 466,198 480,202 L480,212 L436,212 Z" fill="#5a5a5a"/>
<path d="M416,58 C420,48 432,42 446,41 C458,40.5 470,41 478,41 L478,60 C468,66 452,70 438,68 C428,66.5 418,64 416,58 Z" fill="url(#gHVC)"/>
<ellipse cx="441" cy="55.5" rx="17" ry="8" transform="rotate(-8 441 55.5)" fill="#c0c0c0"/>
<ellipse cx="411" cy="175.5" rx="22.5" ry="12.5" transform="rotate(32 411 175.5)" fill="url(#gRA)"/>
<ellipse cx="408.5" cy="169" rx="9.5" ry="7" fill="#c8c8c8"/>
</g>
<g fill="none" stroke="#fff" stroke-linecap="round">
<path d="M421.5,66 C418,80 412,100 409.3,115 C407,126 405.6,136 405.8,146 C406,152 406.4,156 406.8,160" stroke-width="2.1" stroke-opacity="1"/>
<path d="M424,71 C421,86 416.5,102 413,120 C411.5,130 410.5,138 410,146" stroke-width="1.4" stroke-opacity="0.95"/>
<path d="M419.5,68 C416,82 411,98 407.5,112" stroke-width="1.0" stroke-opacity="0.8"/>
<path d="M408.5,110 C405.5,126 403.5,142 403,157" stroke-width="1.5" stroke-opacity="1"/>
<path d="M405.2,112 C403,124 400,140 397.6,156" stroke-width="1.2" stroke-opacity="0.9"/>
<path d="M412.5,130 C410.5,142 409,152 408.5,162" stroke-width="1.3" stroke-opacity="0.95"/>
<path d="M446.5,77 C443,84 438,92 434.5,97" stroke-width="1.7" stroke-opacity="1"/>
<path d="M417,72 C414,76 411,82 409,86" stroke-width="0.9" stroke-opacity="0.8"/>
<path d="M399.5,130 C398,140 397.3,148 397.2,156" stroke-width="0.8" stroke-opacity="0.8"/>
<path d="M394,136 C393.5,142 393,146 393,150" stroke-width="0.7" stroke-opacity="0.7"/>
<path d="M416,128 C415,136 414,142 413.5,148" stroke-width="0.8" stroke-opacity="0.8"/>
<path d="M428,86 C426,92 424,98 423,102" stroke-width="0.7" stroke-opacity="0.7"/>
<path d="M439,136 C438.5,146 438,152 438,158" stroke-width="0.6" stroke-opacity="0.6"/>
<path d="M421,138 C420.5,144 420,148 420,152" stroke-width="0.6" stroke-opacity="0.7"/>
<path d="M383,140 C382.5,144 382.5,148 382.5,152" stroke-width="0.6" stroke-opacity="0.6"/>
<path d="M426,150 C425.5,156 425,160 425,164" stroke-width="0.6" stroke-opacity="0.6"/>
<path d="M402,96 C401,100 400.5,103 400,106" stroke-width="0.6" stroke-opacity="0.6"/>
<path d="M389,112 C388.5,116 388.3,119 388.2,122" stroke-width="0.6" stroke-opacity="0.5"/>
<path d="M430,112 C429.5,117 429.2,121 429,125" stroke-width="0.6" stroke-opacity="0.6"/>
<path d="M452,196 L466,204" stroke-width="1.0" stroke-opacity="0.8"/>
<path d="M458,194 L474,203" stroke-width="0.9" stroke-opacity="0.8"/>
<path d="M446,201 L458,208" stroke-width="0.8" stroke-opacity="0.7"/>
<path d="M462,190 L476,198" stroke-width="0.8" stroke-opacity="0.7"/>
<path d="M410,196 L418,196.5" stroke-width="0.7" stroke-opacity="0.8"/>
</g>
</g>
<rect x="337.65" y="28.95" width="138.30" height="180.10" fill="none" stroke="#ee2a1e" stroke-width="2.7"/>
<path d="M431.20,37.80 L434.50,44.00 L427.90,44.00 Z" fill="#ccdb35"/>
<path d="M458.60,42.10 L461.90,35.90 L455.30,35.90 Z" fill="#ccdb35"/>
<path d="M419.30,65.10 L422.60,58.90 L416.00,58.90 Z" fill="#ccdb35"/>
<path d="M438.60,70.10 L441.90,76.30 L435.30,76.30 Z" fill="#ccdb35"/>
<path d="M457.90,71.30 L461.20,77.50 L454.60,77.50 Z" fill="#ccdb35"/>
<path d="M390.30,163.10 L393.60,169.30 L387.00,169.30 Z" fill="#ccdb35"/>
<path d="M417.00,156.80 L420.30,163.00 L413.70,163.00 Z" fill="#ccdb35"/>
<path d="M430.50,170.90 L433.80,177.10 L427.20,177.10 Z" fill="#ccdb35"/>
<path d="M394.50,188.70 L397.80,182.50 L391.20,182.50 Z" fill="#ccdb35"/>
<path d="M416.60,192.70 L419.90,198.90 L413.30,198.90 Z" fill="#ccdb35"/>
<text x="392.80" y="45.60" font-size="9.4" text-anchor="start" fill="#ccdb35" stroke="#ccdb35" stroke-width="0.3">HVC</text>
<text x="363.50" y="173.20" font-size="9.4" text-anchor="start" fill="#ccdb35" stroke="#ccdb35" stroke-width="0.3">RA</text>
<text x="346.70" y="194.00" font-size="11" text-anchor="start" fill="#fff" >500µm</text>
<rect x="350.7" y="200.8" width="25.8" height="2.9" fill="#fff"/>
<path d="M385.0,128.9 H397" stroke="#fff" stroke-width="1.9" fill="none"/>
<path d="M405.6,128.9 L394.2,125.1 L396.2,128.9 L394.2,132.7 Z" fill="#fff"/>
<path d="M552.98,180.33 L574.12,180.33 L602.51,180.16 L608.19,179.65 L611.03,178.28 L612.92,175.38 L614.50,170.27 L615.76,161.74 L616.71,148.95 L617.65,130.20 L618.44,108.03 L619.23,79.05 L620.02,53.48 L620.75,38.13 L621.44,32.67 L622.14,38.13 L623.02,55.18 L623.97,79.05 L624.91,102.92 L625.86,123.38 L626.80,140.43 L627.75,152.37 L629.01,162.59 L630.27,168.56 L631.85,172.82 L634.06,175.55 L637.22,177.26 L641.95,178.62 L648.26,179.65 L659.30,180.16 L676.02,180.50" fill="none" stroke="#4fdcc6" stroke-width="1.55" stroke-linejoin="round" stroke-linecap="round"/>
<path d="M552.98,180.33 L564.02,180.16 L569.70,179.65 L572.54,178.28 L574.43,175.38 L576.01,170.27 L577.27,161.74 L578.22,148.95 L579.16,130.20 L579.95,108.03 L580.74,79.05 L581.53,53.48 L582.26,38.13 L582.95,32.67 L583.64,38.13 L584.53,55.18 L585.47,79.05 L586.42,102.92 L587.37,123.38 L588.31,140.43 L589.26,152.37 L590.52,162.59 L591.78,168.56 L593.36,172.82 L595.57,175.55 L598.73,177.26 L603.46,178.62 L609.77,179.65 L620.81,180.16 L646.05,180.41 L676.02,180.50" fill="none" stroke="#a040f0" stroke-width="1.55" stroke-linejoin="round" stroke-linecap="round"/>
<path d="M552.98,180.33 L571.43,180.16 L577.11,179.65 L579.95,178.28 L581.85,175.38 L583.42,170.27 L584.69,161.74 L585.63,148.95 L586.58,130.20 L587.37,108.03 L588.16,79.05 L588.94,53.48 L589.67,38.13 L590.36,32.67 L591.06,38.13 L591.94,55.18 L592.89,79.05 L593.83,102.92 L594.78,123.38 L595.73,140.43 L596.67,152.37 L597.94,162.59 L599.20,168.56 L600.78,172.82 L602.98,175.55 L606.14,177.26 L610.87,178.62 L617.18,179.65 L628.22,180.16 L653.46,180.41 L676.02,180.50" fill="none" stroke="#2418f0" stroke-width="1.55" stroke-linejoin="round" stroke-linecap="round"/>
<path d="M550.0,32.5 V183.2 H678.2" fill="none" stroke="#000" stroke-width="1.3" stroke-linecap="square"/>
<line x1="551.40" y1="183.2" x2="551.40" y2="190.6" stroke="#000" stroke-width="1.3"/>
<text x="551.40" y="205.60" font-size="11" text-anchor="middle" fill="#000" >6</text>
<line x1="582.95" y1="183.2" x2="582.95" y2="190.6" stroke="#000" stroke-width="1.3"/>
<text x="582.95" y="205.60" font-size="11" text-anchor="middle" fill="#000" >7</text>
<line x1="614.50" y1="183.2" x2="614.50" y2="190.6" stroke="#000" stroke-width="1.3"/>
<text x="614.50" y="205.60" font-size="11" text-anchor="middle" fill="#000" >8</text>
<line x1="646.05" y1="183.2" x2="646.05" y2="190.6" stroke="#000" stroke-width="1.3"/>
<text x="646.05" y="205.60" font-size="11" text-anchor="middle" fill="#000" >9</text>
<line x1="677.60" y1="183.2" x2="677.60" y2="190.6" stroke="#000" stroke-width="1.3"/>
<text x="677.60" y="205.60" font-size="11" text-anchor="middle" fill="#000" >10</text>
<line x1="541.5" y1="62.00" x2="550.0" y2="62.00" stroke="#000" stroke-width="1.3"/>
<text x="538.60" y="65.90" font-size="11" text-anchor="end" fill="#000" >0</text>
<line x1="541.5" y1="96.10" x2="550.0" y2="96.10" stroke="#000" stroke-width="1.3"/>
<text x="538.60" y="100.00" font-size="11" text-anchor="end" fill="#000" >-20</text>
<line x1="541.5" y1="130.20" x2="550.0" y2="130.20" stroke="#000" stroke-width="1.3"/>
<text x="538.60" y="134.10" font-size="11" text-anchor="end" fill="#000" >-40</text>
<line x1="541.5" y1="164.30" x2="550.0" y2="164.30" stroke="#000" stroke-width="1.3"/>
<text x="538.60" y="168.20" font-size="11" text-anchor="end" fill="#000" >-60</text>
<text x="614.30" y="220.00" font-size="11" text-anchor="middle" fill="#000" >arrival time in RA (ms)</text>
<text transform="translate(518.20,106.50) rotate(-90)" font-size="11" text-anchor="middle" fill="#000">membrane potential (mV)</text>
<text x="572.90" y="34.80" font-size="13" text-anchor="middle" fill="#a040f0" >1</text>
<text x="599.80" y="34.80" font-size="13" text-anchor="middle" fill="#2418f0" >2</text>
<text x="630.90" y="34.80" font-size="13" text-anchor="middle" fill="#4fdcc6" >3</text>
<line x1="633.3" y1="48.70" x2="650.3" y2="48.70" stroke="#a040f0" stroke-width="1.55"/>
<text x="655.20" y="52.30" font-size="11" text-anchor="start" fill="#000" >p=0</text>
<line x1="633.3" y1="60.10" x2="650.3" y2="60.10" stroke="#2418f0" stroke-width="1.55"/>
<text x="655.20" y="63.70" font-size="11" text-anchor="start" fill="#000" >p=0.4</text>
<line x1="633.3" y1="71.50" x2="650.3" y2="71.50" stroke="#4fdcc6" stroke-width="1.55"/>
<text x="655.20" y="75.10" font-size="11" text-anchor="start" fill="#000" >p=0.8</text>
<circle cx="87.30" cy="600.00" r="2.9" fill="none" stroke="#fff" stroke-width="1.7"/>
<text x="87.30" y="591.60" font-size="13.8" text-anchor="middle" fill="#fff" stroke="#fff" stroke-width="0.45">1</text>
<circle cx="164.40" cy="600.00" r="2.9" fill="none" stroke="#fff" stroke-width="1.7"/>
<text x="164.40" y="591.60" font-size="13.8" text-anchor="middle" fill="#fff" stroke="#fff" stroke-width="0.45">2</text>
<circle cx="242.60" cy="600.00" r="2.9" fill="none" stroke="#fff" stroke-width="1.7"/>
<text x="242.60" y="591.60" font-size="13.8" text-anchor="middle" fill="#fff" stroke="#fff" stroke-width="0.45">3</text>
<circle cx="439.40" cy="600.00" r="2.9" fill="none" stroke="#fff" stroke-width="1.7"/>
<text x="439.40" y="594.40" font-size="13.8" text-anchor="middle" fill="#fff" stroke="#fff" stroke-width="0.45">1</text>
<circle cx="516.80" cy="600.00" r="2.9" fill="none" stroke="#fff" stroke-width="1.7"/>
<text x="516.80" y="594.40" font-size="13.8" text-anchor="middle" fill="#fff" stroke="#fff" stroke-width="0.45">2</text>
<circle cx="594.40" cy="600.00" r="2.9" fill="none" stroke="#fff" stroke-width="1.7"/>
<text x="594.40" y="594.40" font-size="13.8" text-anchor="middle" fill="#fff" stroke="#fff" stroke-width="0.45">3</text>
</svg></body></html>
